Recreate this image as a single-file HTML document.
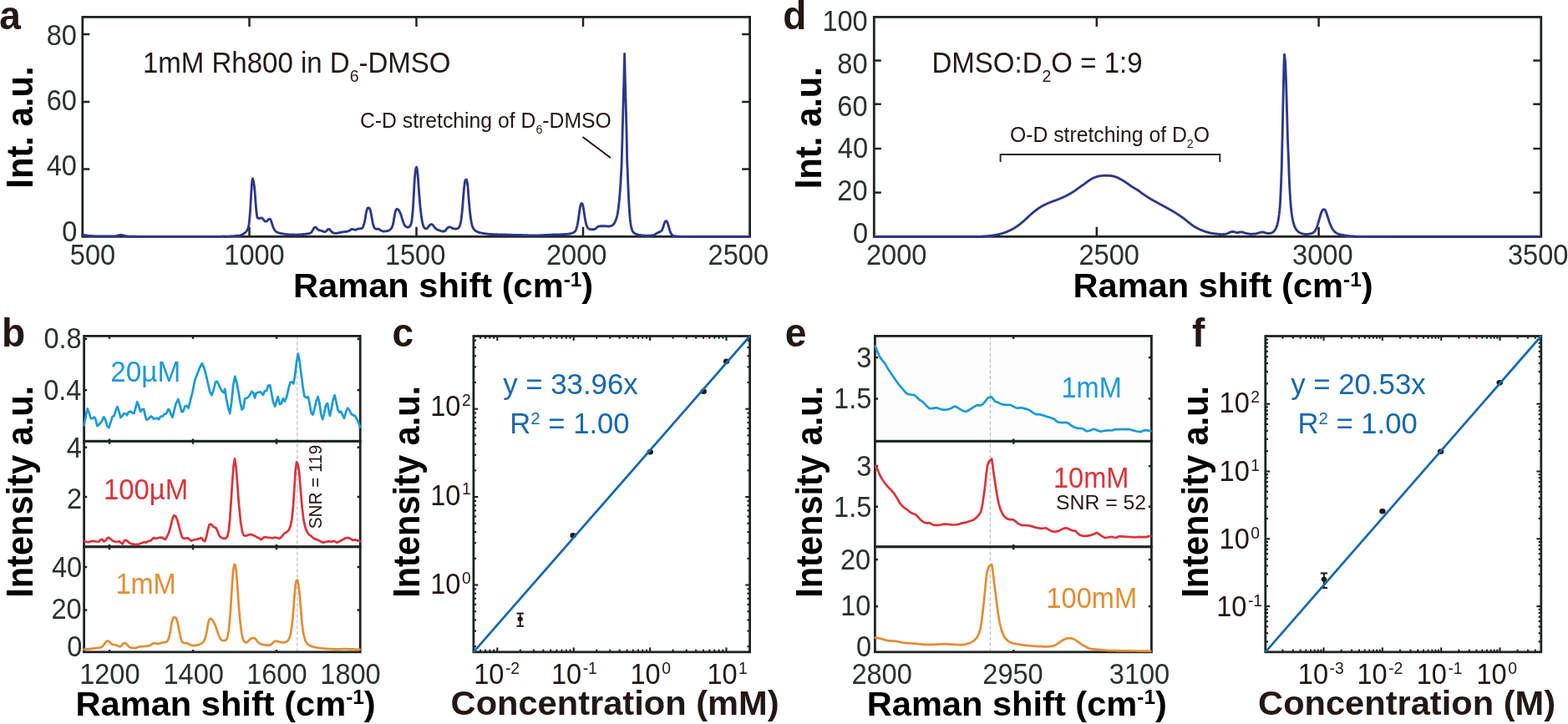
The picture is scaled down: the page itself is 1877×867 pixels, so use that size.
<!DOCTYPE html>
<html lang="en"><head><meta charset="utf-8"><title>Raman spectra figure</title>
<style>
html,body{margin:0;padding:0;background:#fff;}
body{width:1877px;height:867px;overflow:hidden;}
svg{display:block;font-family:"Liberation Sans",sans-serif;}
</style></head><body>
<svg width="1877" height="867" viewBox="0 0 1877 867">
<rect width="1877" height="867" fill="#ffffff"/>
<rect x="98.80" y="20.40" width="798.80" height="262.90" fill="none" stroke="#1e2423" stroke-width="2.8"/>
<line x1="298.50" y1="20.40" x2="298.50" y2="31.90" stroke="#1e2423" stroke-width="2.5"/>
<line x1="298.50" y1="283.30" x2="298.50" y2="271.80" stroke="#1e2423" stroke-width="2.5"/>
<line x1="498.50" y1="20.40" x2="498.50" y2="31.90" stroke="#1e2423" stroke-width="2.5"/>
<line x1="498.50" y1="283.30" x2="498.50" y2="271.80" stroke="#1e2423" stroke-width="2.5"/>
<line x1="698.00" y1="20.40" x2="698.00" y2="31.90" stroke="#1e2423" stroke-width="2.5"/>
<line x1="698.00" y1="283.30" x2="698.00" y2="271.80" stroke="#1e2423" stroke-width="2.5"/>
<line x1="98.80" y1="41.00" x2="107.30" y2="41.00" stroke="#1e2423" stroke-width="2.5"/>
<line x1="897.60" y1="41.00" x2="888.10" y2="41.00" stroke="#1e2423" stroke-width="2.5"/>
<line x1="98.80" y1="122.00" x2="107.30" y2="122.00" stroke="#1e2423" stroke-width="2.5"/>
<line x1="897.60" y1="122.00" x2="888.10" y2="122.00" stroke="#1e2423" stroke-width="2.5"/>
<line x1="98.80" y1="202.50" x2="107.30" y2="202.50" stroke="#1e2423" stroke-width="2.5"/>
<line x1="897.60" y1="202.50" x2="888.10" y2="202.50" stroke="#1e2423" stroke-width="2.5"/>
<polyline points="98.5,281.1 99.0,281.2 99.5,281.3 100.0,281.4 100.5,281.4 101.0,281.5 101.5,281.6 102.0,281.7 102.5,281.8 103.0,281.9 103.5,281.9 104.0,282.0 104.5,282.1 105.0,282.1 105.5,282.2 106.0,282.2 106.5,282.3 107.0,282.3 107.5,282.3 108.0,282.4 108.5,282.4 109.0,282.5 109.5,282.5 110.0,282.5 110.5,282.6 111.0,282.6 111.5,282.6 112.0,282.7 112.5,282.7 113.0,282.7 113.5,282.8 114.0,282.8 114.5,282.8 115.0,282.8 115.5,282.9 116.0,282.9 116.5,282.9 117.0,282.9 117.5,282.9 118.0,283.0 118.5,283.0 119.0,283.0 119.5,283.0 120.0,283.0 120.5,283.0 121.0,283.0 121.5,283.0 122.0,283.0 122.5,283.0 123.0,283.0 123.5,283.0 124.0,283.0 124.5,283.0 125.0,283.0 125.5,283.0 126.0,283.0 126.5,283.0 127.0,283.0 127.5,283.0 128.0,283.0 128.5,283.0 129.0,283.0 129.5,283.0 130.0,283.0 130.5,283.0 131.0,283.0 131.5,283.0 132.0,283.0 132.5,283.0 133.0,283.0 133.5,283.0 134.0,283.0 134.5,283.0 135.0,283.0 135.5,283.0 136.0,283.0 136.5,283.0 137.0,283.0 137.5,283.0 138.0,282.9 138.5,282.8 139.0,282.6 139.5,282.5 140.0,282.3 140.5,282.1 141.0,282.0 141.5,281.9 142.0,281.8 142.5,281.7 143.0,281.5 143.5,281.4 144.0,281.4 144.5,281.3 145.0,281.3 145.5,281.4 146.0,281.5 146.5,281.6 147.0,281.8 147.5,281.9 148.0,282.1 148.5,282.2 149.0,282.3 149.5,282.4 150.0,282.5 150.5,282.7 151.0,282.8 151.5,282.9 152.0,283.0 152.5,283.0 153.0,283.1 153.5,283.1 154.0,283.1 154.5,283.2 155.0,283.2 155.5,283.2 156.0,283.2 156.5,283.2 157.0,283.2 157.5,283.2 158.0,283.2 158.5,283.2 159.0,283.2 159.5,283.2 160.0,283.2 160.5,283.2 161.0,283.2 161.5,283.2 162.0,283.2 162.5,283.2 163.0,283.2 163.5,283.3 164.0,283.3 164.5,283.3 165.0,283.3 165.5,283.3 166.0,283.3 166.5,283.3 167.0,283.3 167.5,283.3 168.0,283.3 168.5,283.3 169.0,283.3 169.5,283.3 170.0,283.3 170.5,283.3 171.0,283.3 171.5,283.3 172.0,283.3 172.5,283.3 173.0,283.3 173.5,283.3 174.0,283.3 174.5,283.3 175.0,283.3 175.5,283.3 176.0,283.3 176.5,283.3 177.0,283.3 177.5,283.3 178.0,283.3 178.5,283.3 179.0,283.3 179.5,283.4 180.0,283.4 180.5,283.4 181.0,283.4 181.5,283.4 182.0,283.4 182.5,283.4 183.0,283.4 183.5,283.4 184.0,283.4 184.5,283.4 185.0,283.4 185.5,283.4 186.0,283.4 186.5,283.4 187.0,283.4 187.5,283.4 188.0,283.4 188.5,283.4 189.0,283.4 189.5,283.4 190.0,283.4 190.5,283.4 191.0,283.4 191.5,283.4 192.0,283.4 192.5,283.4 193.0,283.4 193.5,283.4 194.0,283.4 194.5,283.4 195.0,283.4 195.5,283.4 196.0,283.4 196.5,283.4 197.0,283.4 197.5,283.4 198.0,283.4 198.5,283.4 199.0,283.4 199.5,283.4 200.0,283.4 200.5,283.4 201.0,283.4 201.5,283.4 202.0,283.4 202.5,283.4 203.0,283.4 203.5,283.4 204.0,283.4 204.5,283.4 205.0,283.4 205.5,283.4 206.0,283.4 206.5,283.4 207.0,283.4 207.5,283.4 208.0,283.4 208.5,283.4 209.0,283.4 209.5,283.4 210.0,283.4 210.5,283.4 211.0,283.4 211.5,283.4 212.0,283.4 212.5,283.4 213.0,283.4 213.5,283.4 214.0,283.4 214.5,283.4 215.0,283.4 215.5,283.4 216.0,283.4 216.5,283.4 217.0,283.4 217.5,283.4 218.0,283.4 218.5,283.4 219.0,283.4 219.5,283.4 220.0,283.4 220.5,283.4 221.0,283.4 221.5,283.4 222.0,283.4 222.5,283.4 223.0,283.4 223.5,283.4 224.0,283.4 224.5,283.4 225.0,283.4 225.5,283.4 226.0,283.4 226.5,283.4 227.0,283.4 227.5,283.4 228.0,283.4 228.5,283.4 229.0,283.4 229.5,283.4 230.0,283.4 230.5,283.4 231.0,283.4 231.5,283.4 232.0,283.4 232.5,283.4 233.0,283.4 233.5,283.4 234.0,283.4 234.5,283.4 235.0,283.4 235.5,283.4 236.0,283.4 236.5,283.4 237.0,283.4 237.5,283.4 238.0,283.4 238.5,283.4 239.0,283.4 239.5,283.4 240.0,283.4 240.5,283.4 241.0,283.4 241.5,283.4 242.0,283.4 242.5,283.4 243.0,283.4 243.5,283.4 244.0,283.4 244.5,283.4 245.0,283.4 245.5,283.4 246.0,283.4 246.5,283.4 247.0,283.4 247.5,283.4 248.0,283.4 248.5,283.4 249.0,283.4 249.5,283.4 250.0,283.4 250.5,283.4 251.0,283.4 251.5,283.4 252.0,283.4 252.5,283.4 253.0,283.4 253.5,283.4 254.0,283.4 254.5,283.4 255.0,283.4 255.5,283.4 256.0,283.4 256.5,283.4 257.0,283.3 257.5,283.3 258.0,283.3 258.5,283.3 259.0,283.3 259.5,283.3 260.0,283.3 260.5,283.3 261.0,283.3 261.5,283.3 262.0,283.3 262.5,283.3 263.0,283.3 263.5,283.3 264.0,283.3 264.5,283.3 265.0,283.3 265.5,283.3 266.0,283.2 266.5,283.2 267.0,283.2 267.5,283.2 268.0,283.2 268.5,283.2 269.0,283.2 269.5,283.2 270.0,283.2 270.5,283.2 271.0,283.2 271.5,283.1 272.0,283.1 272.5,283.1 273.0,283.1 273.5,283.1 274.0,283.1 274.5,283.1 275.0,283.1 275.5,283.1 276.0,283.0 276.5,283.0 277.0,283.0 277.5,283.0 278.0,282.9 278.5,282.9 279.0,282.8 279.5,282.8 280.0,282.7 280.5,282.6 281.0,282.6 281.5,282.5 282.0,282.4 282.5,282.4 283.0,282.3 283.5,282.3 284.0,282.3 284.5,282.2 285.0,282.2 285.5,282.2 286.0,282.2 286.5,282.2 287.0,282.2 287.5,282.0 288.0,281.9 288.5,281.6 289.0,281.4 289.5,281.1 290.0,280.8 290.5,280.6 291.0,280.3 291.5,280.0 292.0,279.7 292.5,279.3 293.0,278.9 293.5,278.5 294.0,278.0 294.5,277.5 295.0,276.9 295.5,276.2 296.0,275.4 296.5,274.4 297.0,273.1 297.5,271.5 298.0,268.9 298.5,264.6 299.0,259.3 299.5,252.9 300.0,244.2 300.5,235.0 301.0,227.1 301.5,219.6 302.0,215.4 302.5,213.9 303.0,215.2 303.5,217.4 304.0,220.2 304.5,223.9 305.0,228.8 305.5,235.7 306.0,242.7 306.5,248.8 307.0,254.3 307.5,257.8 308.0,260.5 308.5,261.1 309.0,261.3 309.5,261.4 310.0,261.5 310.5,261.5 311.0,261.4 311.5,261.3 312.0,261.1 312.5,261.0 313.0,260.9 313.5,261.1 314.0,261.5 314.5,262.0 315.0,262.5 315.5,263.0 316.0,263.7 316.5,264.3 317.0,264.9 317.5,265.2 318.0,265.3 318.5,265.2 319.0,264.9 319.5,264.7 320.0,264.3 320.5,263.8 321.0,263.1 321.5,262.4 322.0,262.1 322.5,262.1 323.0,262.3 323.5,262.6 324.0,263.1 324.5,264.4 325.0,265.9 325.5,267.4 326.0,269.0 326.5,270.6 327.0,272.1 327.5,273.2 328.0,274.2 328.5,275.1 329.0,275.9 329.5,276.5 330.0,277.0 330.5,277.4 331.0,277.7 331.5,278.0 332.0,278.3 332.5,278.5 333.0,278.7 333.5,278.8 334.0,279.0 334.5,279.1 335.0,279.3 335.5,279.4 336.0,279.5 336.5,279.6 337.0,279.7 337.5,279.7 338.0,279.8 338.5,279.9 339.0,280.0 339.5,280.1 340.0,280.1 340.5,280.2 341.0,280.3 341.5,280.4 342.0,280.4 342.5,280.5 343.0,280.6 343.5,280.6 344.0,280.7 344.5,280.7 345.0,280.8 345.5,280.8 346.0,280.8 346.5,280.9 347.0,280.9 347.5,280.9 348.0,280.9 348.5,280.9 349.0,281.0 349.5,281.0 350.0,281.0 350.5,281.0 351.0,281.0 351.5,281.0 352.0,281.0 352.5,281.1 353.0,281.1 353.5,281.1 354.0,281.1 354.5,281.1 355.0,281.1 355.5,281.1 356.0,281.0 356.5,281.0 357.0,281.0 357.5,281.0 358.0,280.9 358.5,280.9 359.0,280.9 359.5,280.8 360.0,280.8 360.5,280.7 361.0,280.7 361.5,280.6 362.0,280.6 362.5,280.5 363.0,280.5 363.5,280.5 364.0,280.4 364.5,280.4 365.0,280.3 365.5,280.3 366.0,280.2 366.5,280.2 367.0,280.1 367.5,280.1 368.0,280.0 368.5,279.9 369.0,279.8 369.5,279.7 370.0,279.6 370.5,279.5 371.0,279.3 371.5,279.1 372.0,278.8 372.5,278.5 373.0,277.9 373.5,277.1 374.0,276.3 374.5,275.5 375.0,274.5 375.5,273.5 376.0,272.7 376.5,272.4 377.0,272.3 377.5,272.2 378.0,272.2 378.5,272.5 379.0,273.1 379.5,273.8 380.0,274.4 380.5,274.8 381.0,275.1 381.5,275.4 382.0,275.6 382.5,275.8 383.0,276.0 383.5,276.1 384.0,276.2 384.5,276.3 385.0,276.4 385.5,276.5 386.0,276.7 386.5,277.0 387.0,277.3 387.5,277.5 388.0,277.6 388.5,277.6 389.0,277.5 389.5,277.3 390.0,277.2 390.5,276.9 391.0,276.3 391.5,275.6 392.0,275.0 392.5,274.7 393.0,274.5 393.5,274.4 394.0,274.4 394.5,274.6 395.0,275.2 395.5,275.8 396.0,276.4 396.5,277.0 397.0,277.6 397.5,278.1 398.0,278.3 398.5,278.6 399.0,278.8 399.5,279.0 400.0,279.1 400.5,279.3 401.0,279.3 401.5,279.3 402.0,279.3 402.5,279.3 403.0,279.2 403.5,279.2 404.0,279.1 404.5,279.0 405.0,278.9 405.5,278.8 406.0,278.7 406.5,278.6 407.0,278.5 407.5,278.4 408.0,278.3 408.5,278.1 409.0,278.0 409.5,277.9 410.0,277.8 410.5,277.8 411.0,277.7 411.5,277.7 412.0,277.6 412.5,277.6 413.0,277.6 413.5,277.5 414.0,277.5 414.5,277.4 415.0,277.3 415.5,277.2 416.0,277.1 416.5,277.0 417.0,276.8 417.5,276.6 418.0,276.4 418.5,276.1 419.0,275.8 419.5,275.4 420.0,275.0 420.5,274.6 421.0,274.4 421.5,274.4 422.0,274.5 422.5,274.6 423.0,274.7 423.5,274.8 424.0,275.0 424.5,275.1 425.0,275.3 425.5,275.3 426.0,275.2 426.5,275.0 427.0,274.7 427.5,274.4 428.0,274.2 428.5,274.1 429.0,274.0 429.5,274.0 430.0,273.9 430.5,273.9 431.0,273.8 431.5,273.7 432.0,273.7 432.5,273.6 433.0,273.5 433.5,273.3 434.0,272.8 434.5,271.8 435.0,270.5 435.5,269.1 436.0,267.4 436.5,265.3 437.0,262.8 437.5,260.0 438.0,256.6 438.5,253.7 439.0,251.9 439.5,250.3 440.0,249.3 440.5,249.0 441.0,249.0 441.5,249.0 442.0,249.0 442.5,249.7 443.0,251.0 443.5,252.6 444.0,254.7 444.5,257.3 445.0,260.2 445.5,262.9 446.0,265.7 446.5,268.1 447.0,269.9 447.5,271.4 448.0,272.6 448.5,273.2 449.0,273.6 449.5,273.9 450.0,274.1 450.5,274.2 451.0,274.2 451.5,274.2 452.0,274.2 452.5,274.2 453.0,274.2 453.5,274.2 454.0,274.5 454.5,274.9 455.0,275.3 455.5,275.7 456.0,276.0 456.5,276.2 457.0,276.5 457.5,276.7 458.0,276.9 458.5,277.0 459.0,277.0 459.5,277.0 460.0,277.0 460.5,277.0 461.0,276.9 461.5,276.9 462.0,276.8 462.5,276.8 463.0,276.7 463.5,276.6 464.0,276.5 464.5,276.4 465.0,276.2 465.5,276.0 466.0,275.7 466.5,275.4 467.0,275.0 467.5,274.6 468.0,274.1 468.5,273.5 469.0,272.5 469.5,271.3 470.0,269.9 470.5,268.3 471.0,266.2 471.5,263.1 472.0,259.9 472.5,257.2 473.0,254.6 473.5,252.5 474.0,251.4 474.5,250.8 475.0,250.4 475.5,250.3 476.0,250.5 476.5,250.8 477.0,251.4 477.5,251.9 478.0,252.6 478.5,253.6 479.0,254.8 479.5,256.0 480.0,257.3 480.5,258.8 481.0,260.6 481.5,262.2 482.0,263.8 482.5,265.3 483.0,266.8 483.5,268.1 484.0,269.1 484.5,269.9 485.0,270.5 485.5,271.1 486.0,271.5 486.5,271.7 487.0,271.9 487.5,272.1 488.0,272.2 488.5,272.2 489.0,272.1 489.5,271.8 490.0,271.5 490.5,271.2 491.0,270.5 491.5,269.5 492.0,268.2 492.5,266.6 493.0,263.7 493.5,259.2 494.0,254.1 494.5,247.3 495.0,238.6 495.5,229.6 496.0,220.2 496.5,212.9 497.0,206.9 497.5,203.5 498.0,201.1 498.5,200.0 499.0,201.1 499.5,204.1 500.0,208.4 500.5,214.7 501.0,221.3 501.5,228.6 502.0,235.4 502.5,241.4 503.0,247.0 503.5,251.9 504.0,256.0 504.5,259.7 505.0,263.0 505.5,265.6 506.0,267.9 506.5,269.8 507.0,271.0 507.5,272.0 508.0,272.7 508.5,273.3 509.0,273.6 509.5,273.7 510.0,273.8 510.5,273.8 511.0,273.7 511.5,273.3 512.0,272.7 512.5,272.1 513.0,271.5 513.5,270.8 514.0,270.1 514.5,269.5 515.0,269.1 515.5,268.9 516.0,268.7 516.5,268.6 517.0,268.8 517.5,269.0 518.0,269.3 518.5,269.8 519.0,270.5 519.5,271.3 520.0,272.0 520.5,272.6 521.0,273.1 521.5,273.7 522.0,274.1 522.5,274.5 523.0,274.8 523.5,275.1 524.0,275.2 524.5,275.4 525.0,275.6 525.5,275.7 526.0,275.9 526.5,276.1 527.0,276.3 527.5,276.5 528.0,276.7 528.5,276.8 529.0,277.0 529.5,277.0 530.0,277.0 530.5,277.0 531.0,277.0 531.5,276.9 532.0,276.9 532.5,276.8 533.0,276.4 533.5,275.7 534.0,274.9 534.5,274.2 535.0,273.7 535.5,273.2 536.0,272.7 536.5,272.3 537.0,272.1 537.5,271.9 538.0,271.8 538.5,271.8 539.0,271.9 539.5,272.2 540.0,272.5 540.5,272.7 541.0,272.9 541.5,273.2 542.0,273.4 542.5,273.6 543.0,273.8 543.5,273.9 544.0,274.0 544.5,274.1 545.0,274.2 545.5,274.2 546.0,274.1 546.5,274.0 547.0,273.9 547.5,273.7 548.0,273.5 548.5,273.2 549.0,272.7 549.5,272.1 550.0,271.3 550.5,270.1 551.0,268.3 551.5,266.1 552.0,263.3 552.5,259.5 553.0,255.2 553.5,250.2 554.0,243.8 554.5,237.3 555.0,231.4 555.5,225.7 556.0,221.4 556.5,218.0 557.0,215.7 557.5,215.2 558.0,214.9 558.5,215.2 559.0,217.0 559.5,219.6 560.0,223.7 560.5,230.0 561.0,236.4 561.5,242.4 562.0,248.4 562.5,253.4 563.0,257.5 563.5,261.3 564.0,264.5 564.5,267.1 565.0,269.3 565.5,271.1 566.0,272.5 566.5,273.4 567.0,274.1 567.5,274.8 568.0,275.3 568.5,275.8 569.0,276.2 569.5,276.5 570.0,276.8 570.5,277.1 571.0,277.4 571.5,277.6 572.0,277.9 572.5,278.1 573.0,278.2 573.5,278.4 574.0,278.5 574.5,278.6 575.0,278.8 575.5,278.9 576.0,279.0 576.5,279.1 577.0,279.2 577.5,279.3 578.0,279.4 578.5,279.5 579.0,279.5 579.5,279.6 580.0,279.7 580.5,279.7 581.0,279.8 581.5,279.9 582.0,279.9 582.5,280.0 583.0,280.1 583.5,280.1 584.0,280.2 584.5,280.2 585.0,280.3 585.5,280.3 586.0,280.4 586.5,280.4 587.0,280.4 587.5,280.5 588.0,280.5 588.5,280.5 589.0,280.6 589.5,280.6 590.0,280.6 590.5,280.6 591.0,280.6 591.5,280.6 592.0,280.7 592.5,280.7 593.0,280.7 593.5,280.7 594.0,280.7 594.5,280.7 595.0,280.7 595.5,280.8 596.0,280.8 596.5,280.8 597.0,280.8 597.5,280.8 598.0,280.8 598.5,280.8 599.0,280.9 599.5,280.9 600.0,280.9 600.5,280.9 601.0,280.9 601.5,280.9 602.0,280.9 602.5,281.0 603.0,281.0 603.5,281.0 604.0,281.0 604.5,281.0 605.0,281.0 605.5,281.0 606.0,281.1 606.5,281.1 607.0,281.1 607.5,281.1 608.0,281.1 608.5,281.1 609.0,281.1 609.5,281.2 610.0,281.2 610.5,281.2 611.0,281.2 611.5,281.2 612.0,281.2 612.5,281.2 613.0,281.2 613.5,281.3 614.0,281.3 614.5,281.3 615.0,281.3 615.5,281.3 616.0,281.3 616.5,281.3 617.0,281.3 617.5,281.4 618.0,281.4 618.5,281.4 619.0,281.4 619.5,281.4 620.0,281.4 620.5,281.4 621.0,281.4 621.5,281.5 622.0,281.5 622.5,281.5 623.0,281.5 623.5,281.5 624.0,281.5 624.5,281.5 625.0,281.6 625.5,281.6 626.0,281.6 626.5,281.6 627.0,281.6 627.5,281.6 628.0,281.6 628.5,281.7 629.0,281.7 629.5,281.7 630.0,281.7 630.5,281.7 631.0,281.7 631.5,281.7 632.0,281.8 632.5,281.8 633.0,281.8 633.5,281.8 634.0,281.8 634.5,281.8 635.0,281.8 635.5,281.8 636.0,281.8 636.5,281.8 637.0,281.8 637.5,281.9 638.0,281.9 638.5,281.9 639.0,281.9 639.5,281.9 640.0,281.9 640.5,281.9 641.0,281.9 641.5,281.9 642.0,281.9 642.5,281.9 643.0,281.9 643.5,281.9 644.0,281.8 644.5,281.8 645.0,281.8 645.5,281.8 646.0,281.8 646.5,281.8 647.0,281.7 647.5,281.7 648.0,281.7 648.5,281.7 649.0,281.7 649.5,281.6 650.0,281.6 650.5,281.6 651.0,281.6 651.5,281.5 652.0,281.5 652.5,281.5 653.0,281.4 653.5,281.4 654.0,281.4 654.5,281.4 655.0,281.3 655.5,281.3 656.0,281.3 656.5,281.3 657.0,281.2 657.5,281.2 658.0,281.2 658.5,281.2 659.0,281.1 659.5,281.1 660.0,281.1 660.5,281.1 661.0,281.1 661.5,281.0 662.0,281.0 662.5,281.0 663.0,281.0 663.5,281.0 664.0,281.0 664.5,280.9 665.0,280.9 665.5,280.9 666.0,280.9 666.5,280.9 667.0,280.9 667.5,280.9 668.0,280.8 668.5,280.8 669.0,280.8 669.5,280.8 670.0,280.8 670.5,280.8 671.0,280.7 671.5,280.7 672.0,280.7 672.5,280.7 673.0,280.7 673.5,280.6 674.0,280.6 674.5,280.6 675.0,280.6 675.5,280.6 676.0,280.5 676.5,280.5 677.0,280.5 677.5,280.4 678.0,280.4 678.5,280.4 679.0,280.3 679.5,280.3 680.0,280.2 680.5,280.2 681.0,280.1 681.5,280.0 682.0,280.0 682.5,279.9 683.0,279.7 683.5,279.6 684.0,279.5 684.5,279.3 685.0,279.2 685.5,279.0 686.0,278.8 686.5,278.5 687.0,278.2 687.5,277.8 688.0,277.4 688.5,276.9 689.0,276.1 689.5,275.1 690.0,273.8 690.5,272.3 691.0,270.3 691.5,267.7 692.0,264.8 692.5,261.5 693.0,257.8 693.5,254.3 694.0,251.0 694.5,247.7 695.0,245.7 695.5,244.4 696.0,243.6 696.5,243.5 697.0,244.1 697.5,245.3 698.0,246.9 698.5,250.0 699.0,253.3 699.5,256.4 700.0,259.7 700.5,262.8 701.0,265.4 701.5,267.7 702.0,269.6 702.5,270.9 703.0,271.9 703.5,272.7 704.0,273.3 704.5,273.7 705.0,274.0 705.5,274.2 706.0,274.4 706.5,274.6 707.0,274.7 707.5,274.7 708.0,274.7 708.5,274.7 709.0,274.7 709.5,274.7 710.0,274.7 710.5,274.7 711.0,274.7 711.5,274.6 712.0,274.4 712.5,274.1 713.0,273.8 713.5,273.5 714.0,273.1 714.5,272.6 715.0,272.0 715.5,271.6 716.0,271.3 716.5,271.2 717.0,271.0 717.5,270.9 718.0,270.8 718.5,270.8 719.0,270.7 719.5,270.7 720.0,270.7 720.5,270.7 721.0,270.7 721.5,270.7 722.0,270.7 722.5,270.7 723.0,270.7 723.5,270.7 724.0,270.7 724.5,270.7 725.0,270.7 725.5,270.8 726.0,270.8 726.5,270.9 727.0,270.9 727.5,271.0 728.0,271.0 728.5,271.1 729.0,271.1 729.5,271.0 730.0,270.9 730.5,270.8 731.0,270.7 731.5,270.5 732.0,270.4 732.5,270.2 733.0,269.9 733.5,269.5 734.0,269.1 734.5,268.6 735.0,268.0 735.5,267.2 736.0,266.2 736.5,265.1 737.0,263.9 737.5,262.6 738.0,261.1 738.5,259.4 739.0,257.3 739.5,254.6 740.0,251.1 740.5,247.2 741.0,242.9 741.5,237.8 742.0,232.0 742.5,225.1 743.0,217.4 743.5,208.4 744.0,200.3 745.0,165.0 745.9,130.0 746.8,98.0 747.6,64.4 748.4,98.0 749.3,130.0 750.2,165.0 750.7,193.6 751.2,203.5 751.7,217.4 752.2,229.6 752.7,239.9 753.2,248.7 753.7,255.9 754.2,262.2 754.7,266.5 755.2,269.8 755.7,272.4 756.2,274.1 756.7,275.5 757.2,276.7 757.7,277.6 758.2,278.2 758.7,278.7 759.2,279.1 759.7,279.5 760.2,279.8 760.7,280.0 761.2,280.2 761.7,280.4 762.2,280.6 762.7,280.8 763.2,280.9 763.7,281.0 764.2,281.1 764.7,281.3 765.2,281.4 765.7,281.4 766.2,281.5 766.7,281.6 767.2,281.6 767.7,281.7 768.2,281.8 768.7,281.8 769.2,281.9 769.7,281.9 770.2,281.9 770.7,282.0 771.2,282.0 771.7,282.1 772.2,282.1 772.7,282.1 773.2,282.2 773.7,282.2 774.2,282.2 774.7,282.2 775.2,282.2 775.7,282.2 776.2,282.2 776.7,282.2 777.2,282.2 777.7,282.2 778.2,282.1 778.7,282.1 779.2,282.0 779.7,282.0 780.2,281.9 780.7,281.9 781.2,281.8 781.7,281.7 782.2,281.6 782.7,281.5 783.2,281.2 783.7,281.0 784.2,280.6 784.7,280.3 785.2,280.0 785.7,279.7 786.2,279.4 786.7,279.2 787.2,278.9 787.7,278.6 788.2,278.4 788.7,278.1 789.2,277.9 789.7,277.7 790.2,277.6 790.7,277.3 791.2,277.0 791.7,276.5 792.2,275.8 792.7,274.9 793.2,273.9 793.7,272.6 794.2,270.8 794.7,269.0 795.2,267.7 795.7,266.3 796.2,265.3 796.7,264.9 797.2,264.7 797.7,264.6 798.2,265.2 798.7,266.1 799.2,267.2 799.7,268.7 800.2,270.4 800.7,272.1 801.2,273.9 801.7,275.6 802.2,277.2 802.7,278.4 803.2,279.5 803.7,280.4 804.2,281.1 804.7,281.6 805.2,281.9 805.7,282.2 806.2,282.4 806.7,282.6 807.2,282.7 807.7,282.8 808.2,282.9 808.7,282.9 809.2,283.0 809.7,283.1 810.2,283.1 810.7,283.2 811.2,283.2 811.7,283.2 812.2,283.3 812.7,283.3 813.2,283.3 813.7,283.3 814.2,283.4 814.7,283.4 815.2,283.4 815.7,283.4 816.2,283.4 816.7,283.4 817.2,283.4 817.7,283.4 818.2,283.4 818.7,283.4 819.2,283.4 819.7,283.4 820.2,283.4 820.7,283.4 821.2,283.4 821.7,283.4 822.2,283.4 822.7,283.4 823.2,283.4 823.7,283.4 824.2,283.4 824.7,283.4 825.2,283.4 825.7,283.4 826.2,283.4 826.7,283.4 827.2,283.4 827.7,283.4 828.2,283.5 828.7,283.5 829.2,283.5 829.7,283.5 830.2,283.5 830.7,283.5 831.2,283.5 831.7,283.5 832.2,283.5 832.7,283.5 833.2,283.5 833.7,283.5 834.2,283.5 834.7,283.5 835.2,283.5 835.7,283.5 836.2,283.5 836.7,283.5 837.2,283.5 837.7,283.5 838.2,283.5 838.7,283.5 839.2,283.5 839.7,283.5 840.2,283.5 840.7,283.5 841.2,283.5 841.7,283.5 842.2,283.5 842.7,283.5 843.2,283.5 843.7,283.5 844.2,283.5 844.7,283.5 845.2,283.5 845.7,283.5 846.2,283.5 846.7,283.5 847.2,283.5 847.7,283.5 848.2,283.5 848.7,283.5 849.2,283.5 849.7,283.5 850.2,283.5 850.7,283.5 851.2,283.5 851.7,283.5 852.2,283.5 852.7,283.5 853.2,283.5 853.7,283.5 854.2,283.5 854.7,283.5 855.2,283.5 855.7,283.5 856.2,283.5 856.7,283.5 857.2,283.5 857.7,283.5 858.2,283.5 858.7,283.5 859.2,283.5 859.7,283.5 860.2,283.5 860.7,283.5 861.2,283.5 861.7,283.5 862.2,283.5 862.7,283.5 863.2,283.5 863.7,283.5 864.2,283.5 864.7,283.5 865.2,283.5 865.7,283.5 866.2,283.5 866.7,283.5 867.2,283.5 867.7,283.5 868.2,283.5 868.7,283.5 869.2,283.5 869.7,283.5 870.2,283.5 870.7,283.5 871.2,283.5 871.7,283.5 872.2,283.5 872.7,283.5 873.2,283.5 873.7,283.5 874.2,283.5 874.7,283.5 875.2,283.5 875.7,283.5 876.2,283.5 876.7,283.5 877.2,283.5 877.7,283.5 878.2,283.5 878.7,283.5 879.2,283.5 879.7,283.5 880.2,283.5 880.7,283.5 881.2,283.5 881.7,283.5 882.2,283.5 882.7,283.5 883.2,283.5 883.7,283.5 884.2,283.5 884.7,283.5 885.2,283.5 885.7,283.5 886.2,283.5 886.7,283.5 887.2,283.5 887.7,283.5 888.2,283.5 888.7,283.5 889.2,283.5 889.7,283.5 890.2,283.5 890.7,283.5 891.2,283.5 891.7,283.5 892.2,283.5 892.7,283.5 893.2,283.5 893.7,283.5 894.2,283.5 894.7,283.5 895.2,283.5 895.7,283.5 896.2,283.5 896.7,283.5 897.2,283.5" fill="none" stroke="#2d3889" stroke-width="2.85" stroke-linejoin="round" stroke-linecap="round"/>
<text transform="translate(55.65 53.95) scale(0.9200 1)" font-size="35.4" fill="#2b3030">80</text>
<text transform="translate(55.65 131.75) scale(0.9200 1)" font-size="35.4" fill="#2b3030">60</text>
<text transform="translate(55.75 210.05) scale(0.9200 1)" font-size="35.4" fill="#2b3030">40</text>
<text transform="translate(74.20 288.75) scale(0.9200 1)" font-size="35.4" fill="#2b3030">0</text>
<text transform="translate(83.85 316.70) scale(0.9200 1)" font-size="35.4" fill="#2b3030">500</text>
<text transform="translate(268.30 316.70) scale(0.9200 1)" font-size="35.4" fill="#2b3030">1000</text>
<text transform="translate(460.90 316.70) scale(0.9200 1)" font-size="35.4" fill="#2b3030">1500</text>
<text transform="translate(654.00 316.70) scale(0.9200 1)" font-size="35.4" fill="#2b3030">2000</text>
<text transform="translate(847.60 316.70) scale(0.9200 1)" font-size="35.4" fill="#2b3030">2500</text>
<text transform="translate(-0.80 35.40) scale(0.9600 1)" font-size="48" fill="#231815" font-weight="bold">a</text>
<text transform="translate(39.10 225.70) rotate(-90) scale(0.9390 1)" font-size="44.5" fill="#000000" font-weight="bold">Int. a.u.</text>
<text transform="translate(351.00 356.15) scale(1.0150 1)" font-size="41" fill="#000000" font-weight="bold">Raman shift (cm<tspan font-size="24" dy="-13.6">-1</tspan><tspan dy="13.6">)</tspan></text>
<text transform="translate(171.00 86.80) scale(0.9490 1)" font-size="34.8" fill="#231815">1mM Rh800 in D<tspan font-size="20.5" dy="11.3">6</tspan><tspan dy="-11.3">-DMSO</tspan></text>
<text transform="translate(431.00 152.50) scale(0.9520 1)" font-size="26" fill="#231815">C-D stretching of D<tspan font-size="15" dy="7.5">6</tspan><tspan dy="-7.5">-DMSO</tspan></text>
<line x1="697.50" y1="164.00" x2="731.00" y2="189.00" stroke="#231815" stroke-width="2.0"/>
<rect x="1046.30" y="20.40" width="798.50" height="262.90" fill="none" stroke="#1e2423" stroke-width="2.8"/>
<line x1="1312.80" y1="20.40" x2="1312.80" y2="31.90" stroke="#1e2423" stroke-width="2.5"/>
<line x1="1312.80" y1="283.30" x2="1312.80" y2="271.80" stroke="#1e2423" stroke-width="2.5"/>
<line x1="1578.60" y1="20.40" x2="1578.60" y2="31.90" stroke="#1e2423" stroke-width="2.5"/>
<line x1="1578.60" y1="283.30" x2="1578.60" y2="271.80" stroke="#1e2423" stroke-width="2.5"/>
<line x1="1046.30" y1="72.50" x2="1054.80" y2="72.50" stroke="#1e2423" stroke-width="2.5"/>
<line x1="1844.80" y1="72.50" x2="1835.30" y2="72.50" stroke="#1e2423" stroke-width="2.5"/>
<line x1="1046.30" y1="124.70" x2="1054.80" y2="124.70" stroke="#1e2423" stroke-width="2.5"/>
<line x1="1844.80" y1="124.70" x2="1835.30" y2="124.70" stroke="#1e2423" stroke-width="2.5"/>
<line x1="1046.30" y1="178.00" x2="1054.80" y2="178.00" stroke="#1e2423" stroke-width="2.5"/>
<line x1="1844.80" y1="178.00" x2="1835.30" y2="178.00" stroke="#1e2423" stroke-width="2.5"/>
<line x1="1046.30" y1="230.60" x2="1054.80" y2="230.60" stroke="#1e2423" stroke-width="2.5"/>
<line x1="1844.80" y1="230.60" x2="1835.30" y2="230.60" stroke="#1e2423" stroke-width="2.5"/>
<polyline points="1046.2,283.5 1046.7,283.5 1047.2,283.5 1047.7,283.5 1048.2,283.5 1048.7,283.5 1049.2,283.5 1049.7,283.5 1050.2,283.5 1050.7,283.5 1051.2,283.5 1051.7,283.5 1052.2,283.5 1052.7,283.5 1053.2,283.5 1053.7,283.5 1054.2,283.5 1054.7,283.5 1055.2,283.5 1055.7,283.5 1056.2,283.5 1056.7,283.5 1057.2,283.5 1057.7,283.5 1058.2,283.5 1058.7,283.5 1059.2,283.5 1059.7,283.5 1060.2,283.5 1060.7,283.5 1061.2,283.5 1061.7,283.5 1062.2,283.5 1062.7,283.5 1063.2,283.5 1063.7,283.5 1064.2,283.5 1064.7,283.5 1065.2,283.5 1065.7,283.5 1066.2,283.5 1066.7,283.5 1067.2,283.5 1067.7,283.5 1068.2,283.5 1068.7,283.5 1069.2,283.5 1069.7,283.5 1070.2,283.5 1070.7,283.5 1071.2,283.5 1071.7,283.5 1072.2,283.5 1072.7,283.5 1073.2,283.5 1073.7,283.5 1074.2,283.5 1074.7,283.5 1075.2,283.5 1075.7,283.5 1076.2,283.5 1076.7,283.5 1077.2,283.5 1077.7,283.5 1078.2,283.5 1078.7,283.5 1079.2,283.5 1079.7,283.5 1080.2,283.5 1080.7,283.5 1081.2,283.5 1081.7,283.5 1082.2,283.5 1082.7,283.5 1083.2,283.5 1083.7,283.5 1084.2,283.5 1084.7,283.5 1085.2,283.5 1085.7,283.5 1086.2,283.5 1086.7,283.5 1087.2,283.5 1087.7,283.5 1088.2,283.5 1088.7,283.5 1089.2,283.5 1089.7,283.5 1090.2,283.5 1090.7,283.5 1091.2,283.5 1091.7,283.5 1092.2,283.5 1092.7,283.5 1093.2,283.5 1093.7,283.5 1094.2,283.5 1094.7,283.5 1095.2,283.5 1095.7,283.5 1096.2,283.5 1096.7,283.5 1097.2,283.5 1097.7,283.5 1098.2,283.5 1098.7,283.5 1099.2,283.5 1099.7,283.5 1100.2,283.5 1100.7,283.5 1101.2,283.5 1101.7,283.5 1102.2,283.5 1102.7,283.5 1103.2,283.5 1103.7,283.5 1104.2,283.5 1104.7,283.5 1105.2,283.5 1105.7,283.5 1106.2,283.5 1106.7,283.5 1107.2,283.5 1107.7,283.5 1108.2,283.5 1108.7,283.5 1109.2,283.5 1109.7,283.5 1110.2,283.5 1110.7,283.5 1111.2,283.5 1111.7,283.5 1112.2,283.5 1112.7,283.5 1113.2,283.5 1113.7,283.5 1114.2,283.5 1114.7,283.5 1115.2,283.5 1115.7,283.5 1116.2,283.5 1116.7,283.5 1117.2,283.5 1117.7,283.5 1118.2,283.5 1118.7,283.5 1119.2,283.5 1119.7,283.5 1120.2,283.5 1120.7,283.5 1121.2,283.5 1121.7,283.5 1122.2,283.5 1122.7,283.5 1123.2,283.5 1123.7,283.5 1124.2,283.5 1124.7,283.5 1125.2,283.5 1125.7,283.5 1126.2,283.5 1126.7,283.5 1127.2,283.5 1127.7,283.5 1128.2,283.5 1128.7,283.5 1129.2,283.5 1129.7,283.5 1130.2,283.5 1130.7,283.5 1131.2,283.5 1131.7,283.5 1132.2,283.5 1132.7,283.5 1133.2,283.5 1133.7,283.5 1134.2,283.5 1134.7,283.5 1135.2,283.5 1135.7,283.5 1136.2,283.5 1136.7,283.5 1137.2,283.5 1137.7,283.5 1138.2,283.5 1138.7,283.5 1139.2,283.5 1139.7,283.5 1140.2,283.5 1140.7,283.5 1141.2,283.5 1141.7,283.5 1142.2,283.5 1142.7,283.5 1143.2,283.5 1143.7,283.5 1144.2,283.5 1144.7,283.5 1145.2,283.5 1145.7,283.5 1146.2,283.5 1146.7,283.5 1147.2,283.5 1147.7,283.5 1148.2,283.5 1148.7,283.5 1149.2,283.5 1149.7,283.5 1150.2,283.5 1150.7,283.5 1151.2,283.5 1151.7,283.5 1152.2,283.5 1152.7,283.5 1153.2,283.5 1153.7,283.5 1154.2,283.5 1154.7,283.5 1155.2,283.5 1155.7,283.5 1156.2,283.5 1156.7,283.5 1157.2,283.5 1157.7,283.5 1158.2,283.5 1158.7,283.5 1159.2,283.5 1159.7,283.5 1160.2,283.5 1160.7,283.5 1161.2,283.5 1161.7,283.5 1162.2,283.5 1162.7,283.5 1163.2,283.5 1163.7,283.5 1164.2,283.5 1164.7,283.5 1165.2,283.5 1165.7,283.5 1166.2,283.5 1166.7,283.5 1167.2,283.5 1167.7,283.5 1168.2,283.5 1168.7,283.5 1169.2,283.5 1169.7,283.5 1170.2,283.5 1170.7,283.5 1171.2,283.5 1171.7,283.5 1172.2,283.5 1172.7,283.4 1173.2,283.4 1173.7,283.4 1174.2,283.4 1174.7,283.3 1175.2,283.3 1175.7,283.2 1176.2,283.2 1176.7,283.2 1177.2,283.1 1177.7,283.1 1178.2,283.0 1178.7,283.0 1179.2,283.0 1179.7,282.9 1180.2,282.9 1180.7,282.8 1181.2,282.8 1181.7,282.7 1182.2,282.7 1182.7,282.6 1183.2,282.6 1183.7,282.5 1184.2,282.5 1184.7,282.4 1185.2,282.4 1185.7,282.3 1186.2,282.2 1186.7,282.2 1187.2,282.1 1187.7,282.0 1188.2,282.0 1188.7,281.9 1189.2,281.8 1189.7,281.7 1190.2,281.7 1190.7,281.6 1191.2,281.5 1191.7,281.4 1192.2,281.3 1192.7,281.2 1193.2,281.1 1193.7,281.0 1194.2,280.9 1194.7,280.8 1195.2,280.7 1195.7,280.6 1196.2,280.5 1196.7,280.3 1197.2,280.2 1197.7,280.1 1198.2,279.9 1198.7,279.8 1199.2,279.7 1199.7,279.5 1200.2,279.4 1200.7,279.2 1201.2,279.0 1201.7,278.9 1202.2,278.7 1202.7,278.5 1203.2,278.3 1203.7,278.2 1204.2,278.0 1204.7,277.8 1205.2,277.6 1205.7,277.4 1206.2,277.1 1206.7,276.9 1207.2,276.7 1207.7,276.5 1208.2,276.3 1208.7,276.0 1209.2,275.8 1209.7,275.5 1210.2,275.3 1210.7,275.0 1211.2,274.8 1211.7,274.5 1212.2,274.2 1212.7,274.0 1213.2,273.7 1213.7,273.4 1214.2,273.1 1214.7,272.8 1215.2,272.5 1215.7,272.2 1216.2,271.8 1216.7,271.5 1217.2,271.2 1217.7,270.8 1218.2,270.5 1218.7,270.1 1219.2,269.8 1219.7,269.4 1220.2,269.0 1220.7,268.6 1221.2,268.2 1221.7,267.8 1222.2,267.4 1222.7,267.0 1223.2,266.6 1223.7,266.2 1224.2,265.7 1224.7,265.3 1225.2,264.8 1225.7,264.4 1226.2,263.9 1226.7,263.5 1227.2,263.0 1227.7,262.6 1228.2,262.1 1228.7,261.7 1229.2,261.2 1229.7,260.7 1230.2,260.3 1230.7,259.8 1231.2,259.3 1231.7,258.9 1232.2,258.4 1232.7,257.9 1233.2,257.5 1233.7,257.0 1234.2,256.6 1234.7,256.2 1235.2,255.7 1235.7,255.3 1236.2,254.9 1236.7,254.4 1237.2,254.0 1237.7,253.6 1238.2,253.2 1238.7,252.8 1239.2,252.4 1239.7,252.0 1240.2,251.6 1240.7,251.2 1241.2,250.9 1241.7,250.5 1242.2,250.1 1242.7,249.8 1243.2,249.5 1243.7,249.1 1244.2,248.8 1244.7,248.5 1245.2,248.2 1245.7,247.8 1246.2,247.5 1246.7,247.3 1247.2,247.0 1247.7,246.7 1248.2,246.4 1248.7,246.2 1249.2,245.9 1249.7,245.7 1250.2,245.4 1250.7,245.2 1251.2,244.9 1251.7,244.7 1252.2,244.5 1252.7,244.2 1253.2,244.0 1253.7,243.8 1254.2,243.6 1254.7,243.3 1255.2,243.1 1255.7,242.9 1256.2,242.7 1256.7,242.5 1257.2,242.3 1257.7,242.1 1258.2,241.9 1258.7,241.7 1259.2,241.5 1259.7,241.3 1260.2,241.1 1260.7,240.9 1261.2,240.7 1261.7,240.6 1262.2,240.4 1262.7,240.2 1263.2,240.0 1263.7,239.9 1264.2,239.7 1264.7,239.5 1265.2,239.3 1265.7,239.1 1266.2,238.9 1266.7,238.7 1267.2,238.5 1267.7,238.3 1268.2,238.1 1268.7,237.9 1269.2,237.7 1269.7,237.5 1270.2,237.3 1270.7,237.1 1271.2,236.9 1271.7,236.6 1272.2,236.4 1272.7,236.2 1273.2,236.0 1273.7,235.7 1274.2,235.5 1274.7,235.2 1275.2,235.0 1275.7,234.7 1276.2,234.5 1276.7,234.2 1277.2,234.0 1277.7,233.7 1278.2,233.4 1278.7,233.2 1279.2,232.9 1279.7,232.6 1280.2,232.4 1280.7,232.1 1281.2,231.8 1281.7,231.5 1282.2,231.2 1282.7,230.9 1283.2,230.6 1283.7,230.3 1284.2,230.0 1284.7,229.7 1285.2,229.4 1285.7,229.0 1286.2,228.7 1286.7,228.4 1287.2,228.0 1287.7,227.6 1288.2,227.3 1288.7,226.9 1289.2,226.5 1289.7,226.2 1290.2,225.8 1290.7,225.4 1291.2,225.1 1291.7,224.7 1292.2,224.4 1292.7,224.0 1293.2,223.7 1293.7,223.3 1294.2,223.0 1294.7,222.6 1295.2,222.3 1295.7,221.9 1296.2,221.6 1296.7,221.2 1297.2,220.9 1297.7,220.5 1298.2,220.2 1298.7,219.8 1299.2,219.4 1299.7,219.0 1300.2,218.7 1300.7,218.3 1301.2,217.9 1301.7,217.6 1302.2,217.2 1302.7,216.8 1303.2,216.5 1303.7,216.2 1304.2,215.8 1304.7,215.5 1305.2,215.2 1305.7,214.9 1306.2,214.6 1306.7,214.3 1307.2,214.0 1307.7,213.8 1308.2,213.5 1308.7,213.2 1309.2,213.0 1309.7,212.8 1310.2,212.6 1310.7,212.4 1311.2,212.2 1311.7,212.0 1312.2,211.9 1312.7,211.7 1313.2,211.6 1313.7,211.4 1314.2,211.3 1314.7,211.1 1315.2,211.0 1315.7,210.9 1316.2,210.8 1316.7,210.7 1317.2,210.7 1317.7,210.6 1318.2,210.6 1318.7,210.5 1319.2,210.4 1319.7,210.4 1320.2,210.3 1320.7,210.3 1321.2,210.2 1321.7,210.2 1322.2,210.2 1322.7,210.2 1323.2,210.2 1323.7,210.2 1324.2,210.2 1324.7,210.2 1325.2,210.2 1325.7,210.2 1326.2,210.2 1326.7,210.3 1327.2,210.3 1327.7,210.3 1328.2,210.4 1328.7,210.4 1329.2,210.4 1329.7,210.5 1330.2,210.5 1330.7,210.6 1331.2,210.7 1331.7,210.8 1332.2,210.9 1332.7,211.0 1333.2,211.1 1333.7,211.3 1334.2,211.4 1334.7,211.6 1335.2,211.7 1335.7,211.9 1336.2,212.1 1336.7,212.2 1337.2,212.4 1337.7,212.7 1338.2,212.9 1338.7,213.1 1339.2,213.4 1339.7,213.6 1340.2,213.9 1340.7,214.2 1341.2,214.5 1341.7,214.8 1342.2,215.0 1342.7,215.3 1343.2,215.6 1343.7,215.9 1344.2,216.2 1344.7,216.5 1345.2,216.8 1345.7,217.1 1346.2,217.5 1346.7,217.8 1347.2,218.1 1347.7,218.5 1348.2,218.8 1348.7,219.1 1349.2,219.5 1349.7,219.8 1350.2,220.1 1350.7,220.5 1351.2,220.9 1351.7,221.2 1352.2,221.6 1352.7,221.9 1353.2,222.3 1353.7,222.7 1354.2,223.0 1354.7,223.3 1355.2,223.7 1355.7,224.0 1356.2,224.3 1356.7,224.6 1357.2,224.9 1357.7,225.2 1358.2,225.4 1358.7,225.7 1359.2,226.0 1359.7,226.3 1360.2,226.6 1360.7,226.8 1361.2,227.2 1361.7,227.5 1362.2,227.8 1362.7,228.2 1363.2,228.5 1363.7,228.9 1364.2,229.3 1364.7,229.7 1365.2,230.1 1365.7,230.4 1366.2,230.8 1366.7,231.2 1367.2,231.5 1367.7,231.9 1368.2,232.2 1368.7,232.6 1369.2,232.9 1369.7,233.3 1370.2,233.6 1370.7,233.9 1371.2,234.3 1371.7,234.6 1372.2,234.9 1372.7,235.3 1373.2,235.6 1373.7,235.9 1374.2,236.2 1374.7,236.5 1375.2,236.8 1375.7,237.2 1376.2,237.5 1376.7,237.8 1377.2,238.1 1377.7,238.4 1378.2,238.7 1378.7,239.0 1379.2,239.3 1379.7,239.6 1380.2,239.8 1380.7,240.1 1381.2,240.4 1381.7,240.7 1382.2,240.9 1382.7,241.2 1383.2,241.5 1383.7,241.8 1384.2,242.0 1384.7,242.3 1385.2,242.6 1385.7,242.8 1386.2,243.1 1386.7,243.4 1387.2,243.7 1387.7,243.9 1388.2,244.2 1388.7,244.5 1389.2,244.8 1389.7,245.0 1390.2,245.3 1390.7,245.6 1391.2,245.9 1391.7,246.1 1392.2,246.4 1392.7,246.7 1393.2,247.0 1393.7,247.2 1394.2,247.5 1394.7,247.8 1395.2,248.1 1395.7,248.3 1396.2,248.6 1396.7,248.9 1397.2,249.2 1397.7,249.4 1398.2,249.7 1398.7,250.0 1399.2,250.3 1399.7,250.5 1400.2,250.8 1400.7,251.1 1401.2,251.4 1401.7,251.7 1402.2,251.9 1402.7,252.2 1403.2,252.5 1403.7,252.8 1404.2,253.1 1404.7,253.4 1405.2,253.7 1405.7,254.0 1406.2,254.3 1406.7,254.6 1407.2,254.9 1407.7,255.2 1408.2,255.6 1408.7,255.9 1409.2,256.2 1409.7,256.5 1410.2,256.8 1410.7,257.2 1411.2,257.5 1411.7,257.8 1412.2,258.2 1412.7,258.5 1413.2,258.9 1413.7,259.2 1414.2,259.6 1414.7,259.9 1415.2,260.3 1415.7,260.6 1416.2,261.0 1416.7,261.3 1417.2,261.7 1417.7,262.1 1418.2,262.4 1418.7,262.8 1419.2,263.3 1419.7,263.7 1420.2,264.1 1420.7,264.5 1421.2,264.9 1421.7,265.4 1422.2,265.8 1422.7,266.2 1423.2,266.6 1423.7,267.0 1424.2,267.4 1424.7,267.7 1425.2,268.1 1425.7,268.5 1426.2,268.9 1426.7,269.2 1427.2,269.6 1427.7,269.9 1428.2,270.3 1428.7,270.6 1429.2,270.9 1429.7,271.3 1430.2,271.6 1430.7,271.9 1431.2,272.2 1431.7,272.4 1432.2,272.7 1432.7,273.0 1433.2,273.3 1433.7,273.5 1434.2,273.8 1434.7,274.0 1435.2,274.3 1435.7,274.5 1436.2,274.8 1436.7,275.0 1437.2,275.2 1437.7,275.4 1438.2,275.6 1438.7,275.8 1439.2,276.0 1439.7,276.2 1440.2,276.4 1440.7,276.6 1441.2,276.8 1441.7,277.0 1442.2,277.2 1442.7,277.3 1443.2,277.5 1443.7,277.6 1444.2,277.8 1444.7,277.9 1445.2,278.1 1445.7,278.2 1446.2,278.4 1446.7,278.5 1447.2,278.6 1447.7,278.8 1448.2,278.9 1448.7,279.0 1449.2,279.1 1449.7,279.2 1450.2,279.3 1450.7,279.3 1451.2,279.4 1451.7,279.5 1452.2,279.6 1452.7,279.6 1453.2,279.7 1453.7,279.8 1454.2,279.8 1454.7,279.9 1455.2,280.0 1455.7,280.0 1456.2,280.1 1456.7,280.1 1457.2,280.2 1457.7,280.2 1458.2,280.3 1458.7,280.4 1459.2,280.4 1459.7,280.5 1460.2,280.5 1460.7,280.5 1461.2,280.6 1461.7,280.6 1462.2,280.6 1462.7,280.6 1463.2,280.6 1463.7,280.6 1464.2,280.5 1464.7,280.5 1465.2,280.5 1465.7,280.4 1466.2,280.4 1466.7,280.4 1467.2,280.3 1467.7,280.2 1468.2,280.0 1468.7,279.8 1469.2,279.7 1469.7,279.5 1470.2,279.3 1470.7,279.0 1471.2,278.7 1471.7,278.4 1472.2,278.2 1472.7,278.0 1473.2,277.9 1473.7,277.7 1474.2,277.6 1474.7,277.5 1475.2,277.5 1475.7,277.5 1476.2,277.5 1476.7,277.6 1477.2,277.7 1477.7,277.8 1478.2,277.9 1478.7,278.1 1479.2,278.3 1479.7,278.5 1480.2,278.6 1480.7,278.6 1481.2,278.5 1481.7,278.5 1482.2,278.4 1482.7,278.3 1483.2,278.2 1483.7,278.1 1484.2,278.0 1484.7,278.0 1485.2,277.9 1485.7,277.8 1486.2,277.8 1486.7,277.8 1487.2,278.0 1487.7,278.1 1488.2,278.3 1488.7,278.5 1489.2,278.7 1489.7,278.8 1490.2,278.9 1490.7,279.1 1491.2,279.2 1491.7,279.4 1492.2,279.5 1492.7,279.6 1493.2,279.7 1493.7,279.8 1494.2,279.9 1494.7,280.0 1495.2,280.0 1495.7,280.1 1496.2,280.2 1496.7,280.2 1497.2,280.3 1497.7,280.3 1498.2,280.2 1498.7,280.2 1499.2,280.2 1499.7,280.2 1500.2,280.1 1500.7,280.1 1501.2,280.1 1501.7,280.0 1502.2,280.0 1502.7,279.9 1503.2,279.8 1503.7,279.8 1504.2,279.7 1504.7,279.5 1505.2,279.4 1505.7,279.3 1506.2,279.2 1506.7,279.0 1507.2,278.8 1507.7,278.6 1508.2,278.4 1508.7,278.2 1509.2,278.1 1509.7,278.1 1510.2,278.1 1510.7,278.0 1511.2,278.0 1511.7,278.0 1512.2,278.0 1512.7,278.1 1513.2,278.3 1513.7,278.4 1514.2,278.6 1514.7,278.7 1515.2,278.9 1515.7,279.1 1516.2,279.2 1516.7,279.3 1517.2,279.4 1517.7,279.5 1518.2,279.5 1518.7,279.4 1519.2,279.4 1519.7,279.4 1520.2,279.3 1520.7,279.3 1521.2,279.2 1521.7,279.1 1522.2,278.9 1522.7,278.6 1523.2,278.4 1523.7,278.1 1524.2,277.7 1524.7,277.3 1525.2,276.7 1525.7,276.1 1526.2,275.3 1526.7,274.5 1527.2,273.6 1527.7,272.6 1528.2,271.4 1528.7,270.0 1529.2,268.3 1529.7,266.0 1530.2,263.3 1530.7,260.3 1531.2,256.9 1531.7,252.7 1532.2,246.8 1532.7,238.8 1533.2,227.8 1533.7,215.6 1534.2,201.6 1535.4,150.0 1536.3,105.0 1537.0,75.0 1537.5,65.2 1538.6,74.0 1539.6,100.0 1540.6,135.0 1541.4,165.0 1542.6,194.5 1543.1,209.6 1543.6,221.1 1544.1,230.5 1544.6,238.5 1545.1,245.0 1545.6,250.5 1546.1,254.9 1546.6,258.4 1547.1,261.3 1547.6,263.8 1548.1,265.9 1548.6,267.8 1549.1,269.4 1549.6,270.7 1550.1,271.9 1550.6,273.0 1551.1,273.9 1551.6,274.7 1552.1,275.4 1552.6,276.0 1553.1,276.6 1553.6,277.0 1554.1,277.5 1554.6,277.9 1555.1,278.2 1555.6,278.5 1556.1,278.7 1556.6,279.0 1557.1,279.2 1557.6,279.4 1558.1,279.6 1558.6,279.8 1559.1,279.9 1559.6,280.0 1560.1,280.1 1560.6,280.2 1561.1,280.3 1561.6,280.4 1562.1,280.5 1562.6,280.5 1563.1,280.6 1563.6,280.6 1564.1,280.6 1564.6,280.6 1565.1,280.5 1565.6,280.5 1566.1,280.4 1566.6,280.3 1567.1,280.2 1567.6,280.1 1568.1,280.0 1568.6,279.9 1569.1,279.8 1569.6,279.7 1570.1,279.5 1570.6,279.3 1571.1,279.0 1571.6,278.8 1572.1,278.5 1572.6,278.1 1573.1,277.7 1573.6,277.2 1574.1,276.6 1574.6,275.9 1575.1,275.0 1575.6,274.0 1576.1,272.9 1576.6,271.6 1577.1,270.1 1577.6,268.4 1578.1,266.7 1578.6,265.0 1579.1,263.1 1579.6,261.3 1580.1,259.5 1580.6,257.9 1581.1,256.3 1581.6,254.8 1582.1,253.6 1582.6,252.6 1583.1,251.8 1583.6,251.2 1584.1,250.9 1584.6,250.7 1585.1,250.7 1585.6,251.0 1586.1,251.4 1586.6,252.2 1587.1,253.4 1587.6,254.6 1588.1,256.0 1588.6,257.5 1589.1,259.0 1589.6,260.5 1590.1,262.0 1590.6,263.6 1591.1,265.2 1591.6,266.6 1592.1,267.9 1592.6,269.1 1593.1,270.3 1593.6,271.3 1594.1,272.3 1594.6,273.3 1595.1,274.2 1595.6,275.0 1596.1,275.7 1596.6,276.3 1597.1,276.9 1597.6,277.4 1598.1,277.8 1598.6,278.2 1599.1,278.6 1599.6,278.9 1600.1,279.2 1600.6,279.5 1601.1,279.7 1601.6,280.0 1602.1,280.2 1602.6,280.4 1603.1,280.5 1603.6,280.7 1604.1,280.8 1604.6,280.9 1605.1,281.0 1605.6,281.2 1606.1,281.3 1606.6,281.4 1607.1,281.4 1607.6,281.5 1608.1,281.6 1608.6,281.7 1609.1,281.8 1609.6,281.9 1610.1,281.9 1610.6,282.0 1611.1,282.1 1611.6,282.2 1612.1,282.2 1612.6,282.3 1613.1,282.4 1613.6,282.5 1614.1,282.5 1614.6,282.6 1615.1,282.6 1615.6,282.7 1616.1,282.7 1616.6,282.8 1617.1,282.8 1617.6,282.9 1618.1,282.9 1618.6,282.9 1619.1,283.0 1619.6,283.0 1620.1,283.0 1620.6,283.1 1621.1,283.1 1621.6,283.1 1622.1,283.2 1622.6,283.2 1623.1,283.2 1623.6,283.3 1624.1,283.3 1624.6,283.3 1625.1,283.3 1625.6,283.3 1626.1,283.4 1626.6,283.4 1627.1,283.4 1627.6,283.4 1628.1,283.4 1628.6,283.4 1629.1,283.4 1629.6,283.4 1630.1,283.4 1630.6,283.4 1631.1,283.4 1631.6,283.4 1632.1,283.4 1632.6,283.4 1633.1,283.4 1633.6,283.4 1634.1,283.4 1634.6,283.4 1635.1,283.4 1635.6,283.4 1636.1,283.4 1636.6,283.4 1637.1,283.4 1637.6,283.5 1638.1,283.5 1638.6,283.5 1639.1,283.5 1639.6,283.5 1640.1,283.5 1640.6,283.5 1641.1,283.5 1641.6,283.5 1642.1,283.5 1642.6,283.5 1643.1,283.5 1643.6,283.5 1644.1,283.5 1644.6,283.5 1645.1,283.5 1645.6,283.5 1646.1,283.5 1646.6,283.5 1647.1,283.5 1647.6,283.5 1648.1,283.5 1648.6,283.5 1649.1,283.5 1649.6,283.5 1650.1,283.5 1650.6,283.5 1651.1,283.5 1651.6,283.5 1652.1,283.5 1652.6,283.5 1653.1,283.5 1653.6,283.5 1654.1,283.5 1654.6,283.5 1655.1,283.5 1655.6,283.5 1656.1,283.5 1656.6,283.5 1657.1,283.5 1657.6,283.5 1658.1,283.5 1658.6,283.5 1659.1,283.6 1659.6,283.6 1660.1,283.6 1660.6,283.6 1661.1,283.6 1661.6,283.6 1662.1,283.6 1662.6,283.6 1663.1,283.6 1663.6,283.6 1664.1,283.6 1664.6,283.6 1665.1,283.6 1665.6,283.6 1666.1,283.6 1666.6,283.6 1667.1,283.6 1667.6,283.6 1668.1,283.6 1668.6,283.6 1669.1,283.6 1669.6,283.6 1670.1,283.6 1670.6,283.6 1671.1,283.6 1671.6,283.6 1672.1,283.6 1672.6,283.6 1673.1,283.6 1673.6,283.6 1674.1,283.6 1674.6,283.6 1675.1,283.6 1675.6,283.6 1676.1,283.6 1676.6,283.6 1677.1,283.6 1677.6,283.6 1678.1,283.6 1678.6,283.6 1679.1,283.6 1679.6,283.6 1680.1,283.6 1680.6,283.6 1681.1,283.6 1681.6,283.6 1682.1,283.6 1682.6,283.6 1683.1,283.6 1683.6,283.6 1684.1,283.6 1684.6,283.6 1685.1,283.6 1685.6,283.6 1686.1,283.6 1686.6,283.6 1687.1,283.6 1687.6,283.6 1688.1,283.6 1688.6,283.6 1689.1,283.6 1689.6,283.6 1690.1,283.6 1690.6,283.6 1691.1,283.6 1691.6,283.6 1692.1,283.6 1692.6,283.6 1693.1,283.6 1693.6,283.6 1694.1,283.6 1694.6,283.6 1695.1,283.6 1695.6,283.6 1696.1,283.6 1696.6,283.6 1697.1,283.6 1697.6,283.6 1698.1,283.6 1698.6,283.6 1699.1,283.6 1699.6,283.6 1700.1,283.6 1700.6,283.6 1701.1,283.6 1701.6,283.6 1702.1,283.6 1702.6,283.6 1703.1,283.6 1703.6,283.6 1704.1,283.6 1704.6,283.6 1705.1,283.6 1705.6,283.6 1706.1,283.6 1706.6,283.6 1707.1,283.6 1707.6,283.6 1708.1,283.6 1708.6,283.6 1709.1,283.6 1709.6,283.6 1710.1,283.6 1710.6,283.6 1711.1,283.6 1711.6,283.6 1712.1,283.6 1712.6,283.6 1713.1,283.6 1713.6,283.6 1714.1,283.6 1714.6,283.6 1715.1,283.6 1715.6,283.6 1716.1,283.6 1716.6,283.6 1717.1,283.6 1717.6,283.6 1718.1,283.6 1718.6,283.6 1719.1,283.6 1719.6,283.6 1720.1,283.6 1720.6,283.6 1721.1,283.6 1721.6,283.6 1722.1,283.6 1722.6,283.6 1723.1,283.6 1723.6,283.6 1724.1,283.6 1724.6,283.6 1725.1,283.6 1725.6,283.6 1726.1,283.6 1726.6,283.6 1727.1,283.6 1727.6,283.6 1728.1,283.6 1728.6,283.6 1729.1,283.6 1729.6,283.6 1730.1,283.6 1730.6,283.6 1731.1,283.6 1731.6,283.6 1732.1,283.6 1732.6,283.6 1733.1,283.6 1733.6,283.6 1734.1,283.6 1734.6,283.6 1735.1,283.6 1735.6,283.6 1736.1,283.6 1736.6,283.6 1737.1,283.6 1737.6,283.6 1738.1,283.6 1738.6,283.6 1739.1,283.6 1739.6,283.6 1740.1,283.6 1740.6,283.6 1741.1,283.6 1741.6,283.6 1742.1,283.6 1742.6,283.6 1743.1,283.6 1743.6,283.6 1744.1,283.6 1744.6,283.6 1745.1,283.6 1745.6,283.6 1746.1,283.6 1746.6,283.6 1747.1,283.6 1747.6,283.6 1748.1,283.6 1748.6,283.6 1749.1,283.6 1749.6,283.6 1750.1,283.6 1750.6,283.6 1751.1,283.6 1751.6,283.6 1752.1,283.6 1752.6,283.6 1753.1,283.6 1753.6,283.6 1754.1,283.6 1754.6,283.6 1755.1,283.6 1755.6,283.6 1756.1,283.6 1756.6,283.6 1757.1,283.6 1757.6,283.6 1758.1,283.6 1758.6,283.6 1759.1,283.6 1759.6,283.6 1760.1,283.6 1760.6,283.6 1761.1,283.6 1761.6,283.6 1762.1,283.6 1762.6,283.6 1763.1,283.6 1763.6,283.6 1764.1,283.6 1764.6,283.6 1765.1,283.6 1765.6,283.6 1766.1,283.6 1766.6,283.6 1767.1,283.6 1767.6,283.6 1768.1,283.6 1768.6,283.6 1769.1,283.6 1769.6,283.6 1770.1,283.6 1770.6,283.6 1771.1,283.6 1771.6,283.6 1772.1,283.6 1772.6,283.6 1773.1,283.6 1773.6,283.6 1774.1,283.6 1774.6,283.6 1775.1,283.6 1775.6,283.6 1776.1,283.6 1776.6,283.6 1777.1,283.6 1777.6,283.6 1778.1,283.6 1778.6,283.6 1779.1,283.6 1779.6,283.6 1780.1,283.6 1780.6,283.6 1781.1,283.6 1781.6,283.6 1782.1,283.6 1782.6,283.6 1783.1,283.6 1783.6,283.6 1784.1,283.6 1784.6,283.6 1785.1,283.6 1785.6,283.6 1786.1,283.6 1786.6,283.6 1787.1,283.6 1787.6,283.6 1788.1,283.6 1788.6,283.6 1789.1,283.6 1789.6,283.6 1790.1,283.6 1790.6,283.6 1791.1,283.6 1791.6,283.6 1792.1,283.6 1792.6,283.6 1793.1,283.6 1793.6,283.6 1794.1,283.6 1794.6,283.6 1795.1,283.6 1795.6,283.6 1796.1,283.6 1796.6,283.6 1797.1,283.6 1797.6,283.6 1798.1,283.6 1798.6,283.6 1799.1,283.6 1799.6,283.6 1800.1,283.6 1800.6,283.6 1801.1,283.6 1801.6,283.6 1802.1,283.6 1802.6,283.6 1803.1,283.6 1803.6,283.6 1804.1,283.6 1804.6,283.6 1805.1,283.6 1805.6,283.6 1806.1,283.6 1806.6,283.6 1807.1,283.6 1807.6,283.6 1808.1,283.6 1808.6,283.6 1809.1,283.6 1809.6,283.6 1810.1,283.6 1810.6,283.6 1811.1,283.6 1811.6,283.6 1812.1,283.6 1812.6,283.6 1813.1,283.6 1813.6,283.6 1814.1,283.6 1814.6,283.6 1815.1,283.6 1815.6,283.6 1816.1,283.6 1816.6,283.6 1817.1,283.6 1817.6,283.6 1818.1,283.6 1818.6,283.6 1819.1,283.6 1819.6,283.6 1820.1,283.6 1820.6,283.6 1821.1,283.6 1821.6,283.6 1822.1,283.6 1822.6,283.6 1823.1,283.6 1823.6,283.6 1824.1,283.6 1824.6,283.6 1825.1,283.6 1825.6,283.6 1826.1,283.6 1826.6,283.6 1827.1,283.6 1827.6,283.6 1828.1,283.6 1828.6,283.6 1829.1,283.6 1829.6,283.6 1830.1,283.6 1830.6,283.6 1831.1,283.6 1831.6,283.6 1832.1,283.6 1832.6,283.6 1833.1,283.6 1833.6,283.6 1834.1,283.6 1834.6,283.6 1835.1,283.6 1835.6,283.6 1836.1,283.6 1836.6,283.6 1837.1,283.6 1837.6,283.6 1838.1,283.6 1838.6,283.6 1839.1,283.6 1839.6,283.6 1840.1,283.6 1840.6,283.6 1841.1,283.6 1841.6,283.6 1842.1,283.6 1842.6,283.6 1843.1,283.6 1843.6,283.6 1844.1,283.6" fill="none" stroke="#2d3889" stroke-width="2.85" stroke-linejoin="round" stroke-linecap="round"/>
<text transform="translate(984.40 37.10) scale(0.9200 1)" font-size="35.4" fill="#2b3030">100</text>
<text transform="translate(1002.35 87.65) scale(0.9200 1)" font-size="35.4" fill="#2b3030">80</text>
<text transform="translate(1002.35 138.65) scale(0.9200 1)" font-size="35.4" fill="#2b3030">60</text>
<text transform="translate(1002.85 188.70) scale(0.9200 1)" font-size="35.4" fill="#2b3030">40</text>
<text transform="translate(1002.35 239.55) scale(0.9200 1)" font-size="35.4" fill="#2b3030">20</text>
<text transform="translate(1020.95 290.55) scale(0.9200 1)" font-size="35.4" fill="#2b3030">0</text>
<text transform="translate(1037.00 316.70) scale(0.9200 1)" font-size="35.4" fill="#2b3030">2000</text>
<text transform="translate(1291.50 316.70) scale(0.9200 1)" font-size="35.4" fill="#2b3030">2500</text>
<text transform="translate(1547.10 316.70) scale(0.9200 1)" font-size="35.4" fill="#2b3030">3000</text>
<text transform="translate(1805.00 316.70) scale(0.9200 1)" font-size="35.4" fill="#2b3030">3500</text>
<text transform="translate(937.35 34.85) scale(0.9600 1)" font-size="48" fill="#231815" font-weight="bold">d</text>
<text transform="translate(982.70 226.30) rotate(-90) scale(0.9390 1)" font-size="44.5" fill="#000000" font-weight="bold">Int. a.u.</text>
<text transform="translate(1284.45 356.15) scale(1.0150 1)" font-size="41" fill="#000000" font-weight="bold">Raman shift (cm<tspan font-size="24" dy="-13.6">-1</tspan><tspan dy="13.6">)</tspan></text>
<text transform="translate(1115.50 86.80) scale(0.9490 1)" font-size="34.8" fill="#231815">DMSO:D<tspan font-size="20.5" dy="11.3">2</tspan><tspan dy="-11.3">O = 1:9</tspan></text>
<text transform="translate(1209.00 169.50) scale(0.9520 1)" font-size="26" fill="#231815">O-D stretching of D<tspan font-size="15" dy="7.5">2</tspan><tspan dy="-7.5">O</tspan></text>
<polyline points="1197.6,194 1197.6,185 1460.3,185 1460.3,194" fill="none" stroke="#1e2423" stroke-width="1.9"/>
<line x1="355.80" y1="402.40" x2="355.80" y2="780.80" stroke="#bcc0c2" stroke-width="1.2" stroke-dasharray="4.2 2.6"/>
<rect x="100.60" y="402.40" width="330.60" height="125.90" fill="none" stroke="#1e2423" stroke-width="2.8"/>
<rect x="100.60" y="528.30" width="330.60" height="126.50" fill="none" stroke="#1e2423" stroke-width="2.8"/>
<rect x="100.60" y="654.80" width="330.60" height="126.00" fill="none" stroke="#1e2423" stroke-width="2.8"/>
<line x1="131.00" y1="402.40" x2="131.00" y2="405.80" stroke="#1e2423" stroke-width="2.5"/>
<line x1="131.00" y1="525.50" x2="131.00" y2="531.70" stroke="#1e2423" stroke-width="2.5"/>
<line x1="131.00" y1="652.00" x2="131.00" y2="658.20" stroke="#1e2423" stroke-width="2.5"/>
<line x1="131.00" y1="780.80" x2="131.00" y2="778.00" stroke="#1e2423" stroke-width="2.5"/>
<line x1="231.00" y1="402.40" x2="231.00" y2="405.80" stroke="#1e2423" stroke-width="2.5"/>
<line x1="231.00" y1="525.50" x2="231.00" y2="531.70" stroke="#1e2423" stroke-width="2.5"/>
<line x1="231.00" y1="652.00" x2="231.00" y2="658.20" stroke="#1e2423" stroke-width="2.5"/>
<line x1="231.00" y1="780.80" x2="231.00" y2="778.00" stroke="#1e2423" stroke-width="2.5"/>
<line x1="331.00" y1="402.40" x2="331.00" y2="405.80" stroke="#1e2423" stroke-width="2.5"/>
<line x1="331.00" y1="525.50" x2="331.00" y2="531.70" stroke="#1e2423" stroke-width="2.5"/>
<line x1="331.00" y1="652.00" x2="331.00" y2="658.20" stroke="#1e2423" stroke-width="2.5"/>
<line x1="331.00" y1="780.80" x2="331.00" y2="778.00" stroke="#1e2423" stroke-width="2.5"/>
<line x1="100.60" y1="405.90" x2="104.20" y2="405.90" stroke="#1e2423" stroke-width="2.5"/>
<line x1="431.20" y1="405.90" x2="427.60" y2="405.90" stroke="#1e2423" stroke-width="2.5"/>
<line x1="100.60" y1="467.10" x2="104.20" y2="467.10" stroke="#1e2423" stroke-width="2.5"/>
<line x1="431.20" y1="467.10" x2="427.60" y2="467.10" stroke="#1e2423" stroke-width="2.5"/>
<line x1="100.60" y1="535.70" x2="104.20" y2="535.70" stroke="#1e2423" stroke-width="2.5"/>
<line x1="431.20" y1="535.70" x2="427.60" y2="535.70" stroke="#1e2423" stroke-width="2.5"/>
<line x1="100.60" y1="595.00" x2="104.20" y2="595.00" stroke="#1e2423" stroke-width="2.5"/>
<line x1="431.20" y1="595.00" x2="427.60" y2="595.00" stroke="#1e2423" stroke-width="2.5"/>
<line x1="100.60" y1="679.00" x2="104.20" y2="679.00" stroke="#1e2423" stroke-width="2.5"/>
<line x1="431.20" y1="679.00" x2="427.60" y2="679.00" stroke="#1e2423" stroke-width="2.5"/>
<line x1="100.60" y1="730.60" x2="104.20" y2="730.60" stroke="#1e2423" stroke-width="2.5"/>
<line x1="431.20" y1="730.60" x2="427.60" y2="730.60" stroke="#1e2423" stroke-width="2.5"/>
<polyline points="100.7,509.4 102.9,497.2 104.7,489.4 106.7,494.4 108.6,500.8 110.7,501.2 112.8,499.4 114.3,501.5 116.4,510.1 118.6,508.4 121.4,505.1 124.3,499.4 126.1,502.2 128.1,510.1 130.4,512.2 132.4,505.8 134.7,498.7 136.7,497.9 138.5,492.2 140.4,487.0 142.4,492.2 144.3,500.1 146.4,497.9 148.5,495.1 150.7,495.5 152.1,497.2 153.8,493.7 156.1,492.7 158.5,494.4 160.4,495.1 162.1,489.4 164.2,481.2 166.1,485.8 168.1,493.0 170.0,490.4 172.1,489.8 173.8,497.9 175.7,502.9 177.8,501.5 180.7,498.4 182.8,500.1 184.2,501.8 186.4,501.2 188.5,500.8 189.9,502.2 192.1,498.9 194.9,498.4 196.7,495.8 198.9,495.5 201.4,490.1 202.8,490.8 204.9,497.2 206.4,499.8 208.5,491.5 210.7,483.0 213.2,478.0 215.2,484.4 217.5,493.2 219.2,493.0 221.4,486.5 223.5,485.8 225.6,488.7 227.8,480.1 230.6,468.7 233.5,454.4 236.4,447.3 239.2,440.1 241.8,435.1 244.2,440.1 246.6,448.7 249.2,460.1 251.3,469.4 253.5,473.2 255.6,467.3 257.8,458.0 259.5,456.5 261.3,459.4 264.2,465.8 266.3,469.4 267.8,470.1 269.2,465.8 270.9,477.2 273.2,488.7 275.2,495.1 277.0,483.0 279.2,461.5 281.3,450.8 283.2,457.3 285.6,470.1 287.8,483.0 289.5,490.4 291.3,488.7 293.2,477.2 295.6,476.5 297.7,475.1 299.9,471.5 301.3,469.0 303.2,470.1 304.9,476.5 306.6,470.8 309.2,469.8 312.0,469.4 314.9,473.0 317.0,468.0 319.2,468.0 320.9,461.8 323.2,461.3 324.9,470.1 327.0,481.5 329.2,486.5 330.9,480.8 332.7,475.1 334.9,484.1 337.0,483.0 338.9,477.2 340.9,480.8 343.4,474.4 345.6,464.4 347.4,458.0 349.4,457.3 351.3,459.4 353.1,450.1 354.9,434.4 356.7,423.7 358.5,431.6 360.3,445.8 362.5,463.0 364.5,475.1 366.8,476.1 368.8,475.1 370.6,483.0 372.5,494.4 374.5,496.5 376.3,490.1 378.5,480.8 380.6,475.1 382.5,483.0 384.2,495.8 386.3,502.2 388.2,494.4 389.9,485.8 392.0,483.0 393.5,491.5 394.9,497.9 396.7,490.1 398.4,480.1 400.6,473.2 402.4,480.8 404.4,490.8 406.3,493.7 408.2,492.7 410.2,497.2 412.0,500.8 414.2,493.0 416.3,488.7 418.4,491.5 420.6,495.8 422.7,497.2 424.9,497.9 427.0,501.5 429.1,505.8 431.0,511.5" fill="none" stroke="#1b9ad6" stroke-width="2.7" stroke-linejoin="round" stroke-linecap="round"/>
<polyline points="100.7,648.2 103.6,648.8 106.4,649.2 109.3,648.2 112.1,647.9 115.0,648.5 117.8,648.8 120.0,646.8 122.1,645.7 124.3,648.5 126.4,647.4 128.6,644.2 130.7,643.9 132.8,645.7 135.0,647.8 137.8,648.8 140.7,648.5 142.8,648.2 145.0,650.2 146.7,651.4 148.5,647.8 150.7,646.8 152.8,648.2 155.0,650.2 157.8,651.4 162.1,652.1 166.4,651.6 169.2,650.6 172.1,649.2 175.0,649.7 177.8,647.8 180.7,647.4 182.8,644.9 184.2,643.9 186.4,644.9 189.2,644.2 192.1,643.5 194.2,643.8 196.4,645.4 197.8,645.9 199.9,642.8 202.1,637.8 204.2,630.7 206.4,621.4 208.1,617.4 209.9,617.8 212.1,622.1 214.2,629.9 216.4,638.5 218.1,643.5 219.9,644.9 222.8,644.7 224.9,644.2 227.1,646.4 229.2,647.8 232.1,646.4 235.6,645.9 238.5,644.9 240.9,643.9 243.2,647.1 245.2,648.2 247.1,642.8 248.9,634.2 250.6,628.2 252.1,627.5 254.2,629.2 256.3,631.4 258.5,632.1 260.3,635.7 262.1,640.7 264.2,643.5 267.1,644.9 269.9,644.9 272.0,642.8 273.8,635.7 275.2,621.4 276.6,601.4 278.0,578.5 279.5,558.3 281.0,549.4 282.6,559.7 284.2,580.0 286.0,604.2 288.0,624.2 289.9,636.4 291.8,641.1 294.2,641.8 297.0,640.7 299.9,639.9 302.7,640.7 305.6,642.1 307.7,643.5 309.9,644.2 312.7,646.4 315.6,643.5 317.7,643.1 320.6,643.8 323.4,643.9 326.3,644.5 329.2,643.5 332.0,644.2 334.9,644.9 337.7,642.1 339.9,639.2 342.7,637.4 345.6,634.9 347.7,629.9 349.4,621.4 351.0,605.7 352.4,584.3 353.7,563.6 355.1,553.3 356.6,556.0 358.2,565.7 359.9,587.1 361.6,607.1 363.5,622.8 365.6,632.1 367.8,637.1 369.9,640.2 372.7,642.1 375.6,644.9 378.5,645.9 381.3,647.1 384.2,648.5 387.0,649.7 390.6,648.8 394.2,648.2 397.0,648.8 399.9,647.9 403.4,649.7 406.3,648.5 409.9,646.4 413.4,644.5 416.3,643.9 419.2,644.9 422.0,646.8 424.9,646.4 427.7,647.1 431.0,648.2" fill="none" stroke="#d9343b" stroke-width="2.7" stroke-linejoin="round" stroke-linecap="round"/>
<polyline points="100.7,777.7 101.2,777.6 101.7,777.6 102.2,777.5 102.7,777.5 103.2,777.4 103.7,777.4 104.2,777.3 104.7,777.3 105.2,777.2 105.7,777.2 106.2,777.1 106.7,777.1 107.2,777.0 107.7,777.0 108.2,776.9 108.7,776.9 109.2,776.8 109.7,776.8 110.2,776.7 110.7,776.7 111.2,776.6 111.7,776.6 112.2,776.5 112.7,776.4 113.2,776.4 113.7,776.3 114.2,776.3 114.7,776.2 115.2,776.2 115.7,776.1 116.2,776.0 116.7,776.0 117.2,775.9 117.7,775.8 118.2,775.7 118.7,775.6 119.2,775.5 119.7,775.4 120.2,775.2 120.7,775.1 121.2,774.9 121.7,774.6 122.2,774.3 122.7,773.9 123.2,773.4 123.7,772.9 124.2,772.3 124.7,771.6 125.2,770.8 125.7,770.0 126.2,769.3 126.7,768.8 127.2,768.3 127.7,767.9 128.2,767.6 128.7,767.5 129.2,767.6 129.7,767.8 130.2,768.0 130.7,768.2 131.2,768.6 131.7,769.2 132.2,769.9 132.7,770.4 133.2,770.8 133.7,771.2 134.2,771.5 134.7,771.7 135.2,771.8 135.7,771.9 136.2,772.0 136.7,772.1 137.2,772.1 137.7,772.2 138.2,772.3 138.7,772.5 139.2,772.7 139.7,772.9 140.2,773.2 140.7,773.4 141.2,773.6 141.7,773.8 142.2,774.0 142.7,774.2 143.2,774.3 143.7,774.4 144.2,774.2 144.7,773.8 145.2,773.4 145.7,772.9 146.2,772.3 146.7,771.6 147.2,770.9 147.7,770.4 148.2,770.3 148.7,770.2 149.2,770.1 149.7,770.1 150.2,770.1 150.7,770.4 151.2,771.0 151.7,771.5 152.2,772.0 152.7,772.6 153.2,773.1 153.7,773.7 154.2,774.2 154.7,774.6 155.2,774.9 155.7,775.2 156.2,775.4 156.7,775.5 157.2,775.7 157.7,775.8 158.2,775.8 158.7,775.9 159.2,776.0 159.7,776.0 160.2,776.0 160.7,776.1 161.2,776.1 161.7,776.1 162.2,776.0 162.7,775.9 163.2,775.7 163.7,775.5 164.2,775.3 164.7,775.2 165.2,775.0 165.7,774.9 166.2,774.7 166.7,774.6 167.2,774.5 167.7,774.4 168.2,774.3 168.7,774.3 169.2,774.3 169.7,774.2 170.2,774.2 170.7,774.2 171.2,774.1 171.7,774.1 172.2,774.1 172.7,774.0 173.2,774.0 173.7,774.0 174.2,773.9 174.7,773.9 175.2,773.8 175.7,773.7 176.2,773.7 176.7,773.6 177.2,773.5 177.7,773.4 178.2,773.3 178.7,773.1 179.2,772.9 179.7,772.7 180.2,772.5 180.7,772.2 181.2,771.9 181.7,771.5 182.2,771.1 182.7,770.8 183.2,770.6 183.7,770.4 184.2,770.2 184.7,770.1 185.2,770.1 185.7,770.2 186.2,770.4 186.7,770.6 187.2,770.7 187.7,770.8 188.2,770.8 188.7,770.8 189.2,770.8 189.7,770.8 190.2,770.8 190.7,770.8 191.2,770.7 191.7,770.5 192.2,770.2 192.7,769.9 193.2,769.7 193.7,769.6 194.2,769.6 194.7,769.5 195.2,769.5 195.7,769.4 196.2,769.4 196.7,769.3 197.2,769.2 197.7,769.1 198.2,769.0 198.7,768.9 199.2,768.7 199.7,768.3 200.2,767.8 200.7,767.0 201.2,766.1 201.7,765.0 202.2,763.5 202.7,761.6 203.2,759.4 203.7,756.9 204.2,753.7 204.7,750.6 205.2,747.9 205.7,745.2 206.2,742.9 206.7,741.4 207.2,740.4 207.7,739.7 208.2,739.2 208.7,739.1 209.2,739.2 209.7,739.4 210.2,739.6 210.7,740.0 211.2,741.1 211.7,742.5 212.2,744.1 212.7,746.1 213.2,748.5 213.7,751.1 214.2,753.6 214.7,756.1 215.2,758.6 215.7,761.0 216.2,763.1 216.7,764.8 217.2,766.4 217.7,767.8 218.2,768.7 218.7,769.2 219.2,769.6 219.7,769.9 220.2,770.0 220.7,770.1 221.2,770.1 221.7,770.1 222.2,770.1 222.7,770.1 223.2,770.1 223.7,770.1 224.2,770.2 224.7,770.5 225.2,770.8 225.7,771.2 226.2,771.4 226.7,771.7 227.2,771.9 227.7,772.1 228.2,772.3 228.7,772.5 229.2,772.7 229.7,772.8 230.2,772.9 230.7,773.0 231.2,773.0 231.7,773.1 232.2,773.1 232.7,773.1 233.2,773.0 233.7,772.9 234.2,772.8 234.7,772.7 235.2,772.6 235.7,772.5 236.2,772.4 236.7,772.3 237.2,772.1 237.7,772.0 238.2,771.9 238.7,771.7 239.2,771.5 239.7,771.3 240.2,771.1 240.7,770.8 241.2,770.5 241.7,770.2 242.2,769.9 242.7,769.4 243.2,768.9 243.7,768.3 244.2,767.4 244.7,766.5 245.2,765.4 245.7,764.2 246.2,762.5 246.7,760.3 247.2,757.9 247.7,755.3 248.2,752.2 248.7,749.0 249.2,746.5 249.7,744.6 250.2,742.9 250.7,741.8 251.2,741.2 251.7,740.9 252.2,740.8 252.7,741.0 253.2,741.5 253.7,742.0 254.2,742.5 254.7,743.1 255.2,743.9 255.7,744.7 256.2,745.6 256.7,746.6 257.2,747.7 257.7,749.0 258.2,750.3 258.7,751.7 259.2,753.1 259.7,754.6 260.2,756.1 260.7,757.6 261.2,759.0 261.7,760.4 262.2,761.7 262.7,762.9 263.2,763.9 263.7,764.7 264.2,765.5 264.7,766.1 265.2,766.6 265.7,766.8 266.2,767.0 266.7,767.1 267.2,767.2 267.7,767.2 268.2,767.2 268.7,767.1 269.2,767.0 269.7,766.9 270.2,766.6 270.7,766.1 271.2,765.4 271.7,764.4 272.2,763.2 272.7,761.3 273.2,758.6 273.7,755.4 274.2,751.4 274.7,746.3 275.2,740.6 275.7,734.1 276.2,726.9 276.7,719.4 277.2,711.2 277.7,702.9 278.2,695.6 278.7,688.5 279.2,682.7 279.7,679.6 280.2,677.4 280.7,676.0 281.2,675.8 281.7,677.4 282.2,680.0 282.7,683.3 283.2,688.6 283.7,695.1 284.2,701.7 284.7,709.0 285.2,716.6 285.7,723.5 286.2,729.8 286.7,735.8 287.2,741.2 287.7,745.9 288.2,750.5 288.7,754.6 289.2,758.0 289.7,760.5 290.2,762.7 290.7,764.6 291.2,766.1 291.7,767.2 292.2,767.9 292.7,768.5 293.2,768.9 293.7,769.3 294.2,769.4 294.7,769.3 295.2,769.2 295.7,769.0 296.2,768.7 296.7,768.4 297.2,767.9 297.7,767.3 298.2,766.8 298.7,766.3 299.2,765.8 299.7,765.3 300.2,764.9 300.7,764.6 301.2,764.4 301.7,764.2 302.2,764.0 302.7,763.9 303.2,764.0 303.7,764.0 304.2,764.2 304.7,764.3 305.2,764.5 305.7,765.0 306.2,765.5 306.7,766.1 307.2,766.7 307.7,767.4 308.2,768.2 308.7,768.9 309.2,769.4 309.7,769.8 310.2,770.2 310.7,770.6 311.2,770.9 311.7,771.1 312.2,771.3 312.7,771.4 313.2,771.5 313.7,771.6 314.2,771.7 314.7,771.8 315.2,771.9 315.7,772.0 316.2,772.1 316.7,772.2 317.2,772.3 317.7,772.5 318.2,772.6 318.7,772.6 319.2,772.7 319.7,772.7 320.2,772.7 320.7,772.7 321.2,772.7 321.7,772.7 322.2,772.7 322.7,772.7 323.2,772.6 323.7,772.3 324.2,772.0 324.7,771.5 325.2,771.1 325.7,770.7 326.2,770.2 326.7,769.7 327.2,769.2 327.7,768.7 328.2,768.3 328.7,768.1 329.2,767.9 329.7,767.8 330.2,767.7 330.7,767.7 331.2,767.7 331.7,767.9 332.2,768.1 332.7,768.2 333.2,768.4 333.7,768.5 334.2,768.6 334.7,768.8 335.2,768.9 335.7,769.0 336.2,769.0 336.7,769.1 337.2,769.2 337.7,769.3 338.2,769.3 338.7,769.4 339.2,769.4 339.7,769.3 340.2,769.3 340.7,769.2 341.2,769.1 341.7,769.0 342.2,768.8 342.7,768.7 343.2,768.4 343.7,768.1 344.2,767.6 344.7,767.0 345.2,766.4 345.7,765.6 346.2,764.5 346.7,763.0 347.2,761.3 347.7,759.2 348.2,757.0 348.7,754.0 349.2,750.4 349.7,746.4 350.2,741.9 350.7,736.6 351.2,730.9 351.7,724.9 352.2,718.0 352.7,711.1 353.2,705.7 353.7,701.2 354.2,697.7 354.7,696.0 355.2,695.1 355.7,694.6 356.2,694.9 356.7,697.3 357.2,700.1 357.7,703.5 358.2,707.5 358.7,712.4 359.2,718.3 359.7,724.3 360.2,730.3 360.7,736.6 361.2,742.5 361.7,747.4 362.2,751.4 362.7,755.0 363.2,758.0 363.7,760.5 364.2,762.7 364.7,764.6 365.2,766.2 365.7,767.4 366.2,768.4 366.7,769.3 367.2,770.1 367.7,770.7 368.2,771.3 368.7,771.7 369.2,772.1 369.7,772.4 370.2,772.8 370.7,773.0 371.2,773.3 371.7,773.5 372.2,773.7 372.7,773.9 373.2,774.1 373.7,774.3 374.2,774.4 374.7,774.5 375.2,774.7 375.7,774.8 376.2,774.9 376.7,775.0 377.2,775.1 377.7,775.2 378.2,775.3 378.7,775.4 379.2,775.5 379.7,775.6 380.2,775.7 380.7,775.8 381.2,775.8 381.7,775.9 382.2,776.0 382.7,776.0 383.2,776.1 383.7,776.2 384.2,776.2 384.7,776.3 385.2,776.3 385.7,776.4 386.2,776.4 386.7,776.5 387.2,776.5 387.7,776.6 388.2,776.6 388.7,776.7 389.2,776.7 389.7,776.7 390.2,776.8 390.7,776.8 391.2,776.8 391.7,776.9 392.2,776.9 392.7,776.9 393.2,777.0 393.7,777.0 394.2,777.0 394.7,777.1 395.2,777.1 395.7,777.1 396.2,777.2 396.7,777.2 397.2,777.2 397.7,777.3 398.2,777.3 398.7,777.3 399.2,777.3 399.7,777.3 400.2,777.4 400.7,777.4 401.2,777.4 401.7,777.4 402.2,777.4 402.7,777.4 403.2,777.4 403.7,777.3 404.2,777.3 404.7,777.3 405.2,777.3 405.7,777.3 406.2,777.3 406.7,777.3 407.2,777.3 407.7,777.3 408.2,777.3 408.7,777.3 409.2,777.3 409.7,777.2 410.2,777.2 410.7,777.2 411.2,777.2 411.7,777.2 412.2,777.2 412.7,777.2 413.2,777.2 413.7,777.2 414.2,777.2 414.7,777.2 415.2,777.2 415.7,777.2 416.2,777.3 416.7,777.3 417.2,777.3 417.7,777.3 418.2,777.3 418.7,777.3 419.2,777.3 419.7,777.3 420.2,777.3 420.7,777.4 421.2,777.4 421.7,777.4 422.2,777.4 422.7,777.4 423.2,777.4 423.7,777.5 424.2,777.5 424.7,777.5 425.2,777.5 425.7,777.6 426.2,777.6 426.7,777.6 427.2,777.7 427.7,777.7 428.2,777.7 428.7,777.8 429.2,777.8 429.7,777.8 430.2,777.9 430.7,777.9" fill="none" stroke="#e28d35" stroke-width="2.7" stroke-linejoin="round" stroke-linecap="round"/>
<text transform="translate(52.45 417.10) scale(0.9200 1)" font-size="35.4" fill="#2b3030">0.8</text>
<text transform="translate(52.20 478.85) scale(0.9200 1)" font-size="35.4" fill="#2b3030">0.4</text>
<text transform="translate(79.85 547.75) scale(0.9200 1)" font-size="35.4" fill="#2b3030">4</text>
<text transform="translate(80.00 608.70) scale(0.9200 1)" font-size="35.4" fill="#2b3030">2</text>
<text transform="translate(62.00 690.75) scale(0.9200 1)" font-size="35.4" fill="#2b3030">40</text>
<text transform="translate(61.50 741.25) scale(0.9200 1)" font-size="35.4" fill="#2b3030">20</text>
<text transform="translate(80.20 785.75) scale(0.9200 1)" font-size="35.4" fill="#2b3030">0</text>
<text transform="translate(95.15 819.35) scale(0.9200 1)" font-size="35.4" fill="#2b3030">1200</text>
<text transform="translate(195.50 819.35) scale(0.9200 1)" font-size="35.4" fill="#2b3030">1400</text>
<text transform="translate(295.15 819.35) scale(0.9200 1)" font-size="35.4" fill="#2b3030">1600</text>
<text transform="translate(383.30 819.35) scale(0.9200 1)" font-size="35.4" fill="#2b3030">1800</text>
<text transform="translate(2.10 414.85) scale(0.9600 1)" font-size="48" fill="#231815" font-weight="bold">b</text>
<text transform="translate(39.00 715.85) rotate(-90) scale(0.9340 1)" font-size="44.5" fill="#000000" font-weight="bold">Intensity a.u.</text>
<text transform="translate(90.50 856.85) scale(1.0150 1)" font-size="41" fill="#000000" font-weight="bold">Raman shift (cm<tspan font-size="24" dy="-13.6">-1</tspan><tspan dy="13.6">)</tspan></text>
<text transform="translate(132.30 457.35) scale(0.9400 1)" font-size="35.4" fill="#1b9ad6">20µM</text>
<text transform="translate(123.95 597.75) scale(0.9300 1)" font-size="35.4" fill="#d9343b">100µM</text>
<text transform="translate(138.40 710.75) scale(0.9200 1)" font-size="35.4" fill="#e28d35">1mM</text>
<text transform="translate(385.20 633.25) rotate(-90) scale(0.9650 1)" font-size="21.5" fill="#231815">SNR = 119</text>
<ellipse cx="686.10" cy="641.20" rx="3.70" ry="3.30" fill="#231815"/>
<ellipse cx="778.20" cy="541.30" rx="3.70" ry="3.30" fill="#231815"/>
<ellipse cx="842.20" cy="468.80" rx="3.70" ry="3.30" fill="#231815"/>
<ellipse cx="869.60" cy="432.80" rx="3.70" ry="3.30" fill="#231815"/>
<line x1="622.70" y1="734.60" x2="622.70" y2="749.80" stroke="#231815" stroke-width="2.0"/>
<line x1="618.50" y1="734.60" x2="626.90" y2="734.60" stroke="#231815" stroke-width="2.0"/>
<line x1="618.50" y1="749.80" x2="626.90" y2="749.80" stroke="#231815" stroke-width="2.0"/>
<ellipse cx="622.70" cy="741.30" rx="3.10" ry="2.70" fill="#231815"/>
<rect x="566.90" y="402.50" width="330.70" height="378.30" fill="none" stroke="#1e2423" stroke-width="2.8"/>
<line x1="575.02" y1="402.50" x2="575.02" y2="405.70" stroke="#1e2423" stroke-width="2.1"/>
<line x1="575.02" y1="780.80" x2="575.02" y2="777.60" stroke="#1e2423" stroke-width="2.1"/>
<line x1="581.14" y1="402.50" x2="581.14" y2="405.70" stroke="#1e2423" stroke-width="2.1"/>
<line x1="581.14" y1="780.80" x2="581.14" y2="777.60" stroke="#1e2423" stroke-width="2.1"/>
<line x1="586.44" y1="402.50" x2="586.44" y2="405.70" stroke="#1e2423" stroke-width="2.1"/>
<line x1="586.44" y1="780.80" x2="586.44" y2="777.60" stroke="#1e2423" stroke-width="2.1"/>
<line x1="591.12" y1="402.50" x2="591.12" y2="405.70" stroke="#1e2423" stroke-width="2.1"/>
<line x1="591.12" y1="780.80" x2="591.12" y2="777.60" stroke="#1e2423" stroke-width="2.1"/>
<line x1="595.30" y1="402.50" x2="595.30" y2="407.90" stroke="#1e2423" stroke-width="2.1"/>
<line x1="595.30" y1="780.80" x2="595.30" y2="775.40" stroke="#1e2423" stroke-width="2.1"/>
<line x1="622.81" y1="402.50" x2="622.81" y2="405.70" stroke="#1e2423" stroke-width="2.1"/>
<line x1="622.81" y1="780.80" x2="622.81" y2="777.60" stroke="#1e2423" stroke-width="2.1"/>
<line x1="638.91" y1="402.50" x2="638.91" y2="405.70" stroke="#1e2423" stroke-width="2.1"/>
<line x1="638.91" y1="780.80" x2="638.91" y2="777.60" stroke="#1e2423" stroke-width="2.1"/>
<line x1="650.33" y1="402.50" x2="650.33" y2="405.70" stroke="#1e2423" stroke-width="2.1"/>
<line x1="650.33" y1="780.80" x2="650.33" y2="777.60" stroke="#1e2423" stroke-width="2.1"/>
<line x1="659.19" y1="402.50" x2="659.19" y2="405.70" stroke="#1e2423" stroke-width="2.1"/>
<line x1="659.19" y1="780.80" x2="659.19" y2="777.60" stroke="#1e2423" stroke-width="2.1"/>
<line x1="666.42" y1="402.50" x2="666.42" y2="405.70" stroke="#1e2423" stroke-width="2.1"/>
<line x1="666.42" y1="780.80" x2="666.42" y2="777.60" stroke="#1e2423" stroke-width="2.1"/>
<line x1="672.54" y1="402.50" x2="672.54" y2="405.70" stroke="#1e2423" stroke-width="2.1"/>
<line x1="672.54" y1="780.80" x2="672.54" y2="777.60" stroke="#1e2423" stroke-width="2.1"/>
<line x1="677.84" y1="402.50" x2="677.84" y2="405.70" stroke="#1e2423" stroke-width="2.1"/>
<line x1="677.84" y1="780.80" x2="677.84" y2="777.60" stroke="#1e2423" stroke-width="2.1"/>
<line x1="682.52" y1="402.50" x2="682.52" y2="405.70" stroke="#1e2423" stroke-width="2.1"/>
<line x1="682.52" y1="780.80" x2="682.52" y2="777.60" stroke="#1e2423" stroke-width="2.1"/>
<line x1="686.70" y1="402.50" x2="686.70" y2="407.90" stroke="#1e2423" stroke-width="2.1"/>
<line x1="686.70" y1="780.80" x2="686.70" y2="775.40" stroke="#1e2423" stroke-width="2.1"/>
<line x1="714.21" y1="402.50" x2="714.21" y2="405.70" stroke="#1e2423" stroke-width="2.1"/>
<line x1="714.21" y1="780.80" x2="714.21" y2="777.60" stroke="#1e2423" stroke-width="2.1"/>
<line x1="566.90" y1="774.17" x2="570.10" y2="774.17" stroke="#1e2423" stroke-width="2.1"/>
<line x1="897.60" y1="774.17" x2="894.40" y2="774.17" stroke="#1e2423" stroke-width="2.1"/>
<line x1="730.31" y1="402.50" x2="730.31" y2="405.70" stroke="#1e2423" stroke-width="2.1"/>
<line x1="730.31" y1="780.80" x2="730.31" y2="777.60" stroke="#1e2423" stroke-width="2.1"/>
<line x1="566.90" y1="755.61" x2="570.10" y2="755.61" stroke="#1e2423" stroke-width="2.1"/>
<line x1="897.60" y1="755.61" x2="894.40" y2="755.61" stroke="#1e2423" stroke-width="2.1"/>
<line x1="741.73" y1="402.50" x2="741.73" y2="405.70" stroke="#1e2423" stroke-width="2.1"/>
<line x1="741.73" y1="780.80" x2="741.73" y2="777.60" stroke="#1e2423" stroke-width="2.1"/>
<line x1="566.90" y1="742.44" x2="570.10" y2="742.44" stroke="#1e2423" stroke-width="2.1"/>
<line x1="897.60" y1="742.44" x2="894.40" y2="742.44" stroke="#1e2423" stroke-width="2.1"/>
<line x1="750.59" y1="402.50" x2="750.59" y2="405.70" stroke="#1e2423" stroke-width="2.1"/>
<line x1="750.59" y1="780.80" x2="750.59" y2="777.60" stroke="#1e2423" stroke-width="2.1"/>
<line x1="566.90" y1="732.23" x2="570.10" y2="732.23" stroke="#1e2423" stroke-width="2.1"/>
<line x1="897.60" y1="732.23" x2="894.40" y2="732.23" stroke="#1e2423" stroke-width="2.1"/>
<line x1="757.82" y1="402.50" x2="757.82" y2="405.70" stroke="#1e2423" stroke-width="2.1"/>
<line x1="757.82" y1="780.80" x2="757.82" y2="777.60" stroke="#1e2423" stroke-width="2.1"/>
<line x1="566.90" y1="723.88" x2="570.10" y2="723.88" stroke="#1e2423" stroke-width="2.1"/>
<line x1="897.60" y1="723.88" x2="894.40" y2="723.88" stroke="#1e2423" stroke-width="2.1"/>
<line x1="763.94" y1="402.50" x2="763.94" y2="405.70" stroke="#1e2423" stroke-width="2.1"/>
<line x1="763.94" y1="780.80" x2="763.94" y2="777.60" stroke="#1e2423" stroke-width="2.1"/>
<line x1="566.90" y1="716.83" x2="570.10" y2="716.83" stroke="#1e2423" stroke-width="2.1"/>
<line x1="897.60" y1="716.83" x2="894.40" y2="716.83" stroke="#1e2423" stroke-width="2.1"/>
<line x1="769.24" y1="402.50" x2="769.24" y2="405.70" stroke="#1e2423" stroke-width="2.1"/>
<line x1="769.24" y1="780.80" x2="769.24" y2="777.60" stroke="#1e2423" stroke-width="2.1"/>
<line x1="566.90" y1="710.71" x2="570.10" y2="710.71" stroke="#1e2423" stroke-width="2.1"/>
<line x1="897.60" y1="710.71" x2="894.40" y2="710.71" stroke="#1e2423" stroke-width="2.1"/>
<line x1="773.92" y1="402.50" x2="773.92" y2="405.70" stroke="#1e2423" stroke-width="2.1"/>
<line x1="773.92" y1="780.80" x2="773.92" y2="777.60" stroke="#1e2423" stroke-width="2.1"/>
<line x1="566.90" y1="705.32" x2="570.10" y2="705.32" stroke="#1e2423" stroke-width="2.1"/>
<line x1="897.60" y1="705.32" x2="894.40" y2="705.32" stroke="#1e2423" stroke-width="2.1"/>
<line x1="778.10" y1="402.50" x2="778.10" y2="407.90" stroke="#1e2423" stroke-width="2.1"/>
<line x1="778.10" y1="780.80" x2="778.10" y2="775.40" stroke="#1e2423" stroke-width="2.1"/>
<line x1="566.90" y1="700.50" x2="572.30" y2="700.50" stroke="#1e2423" stroke-width="2.1"/>
<line x1="897.60" y1="700.50" x2="892.20" y2="700.50" stroke="#1e2423" stroke-width="2.1"/>
<line x1="805.61" y1="402.50" x2="805.61" y2="405.70" stroke="#1e2423" stroke-width="2.1"/>
<line x1="805.61" y1="780.80" x2="805.61" y2="777.60" stroke="#1e2423" stroke-width="2.1"/>
<line x1="566.90" y1="668.77" x2="570.10" y2="668.77" stroke="#1e2423" stroke-width="2.1"/>
<line x1="897.60" y1="668.77" x2="894.40" y2="668.77" stroke="#1e2423" stroke-width="2.1"/>
<line x1="821.71" y1="402.50" x2="821.71" y2="405.70" stroke="#1e2423" stroke-width="2.1"/>
<line x1="821.71" y1="780.80" x2="821.71" y2="777.60" stroke="#1e2423" stroke-width="2.1"/>
<line x1="566.90" y1="650.21" x2="570.10" y2="650.21" stroke="#1e2423" stroke-width="2.1"/>
<line x1="897.60" y1="650.21" x2="894.40" y2="650.21" stroke="#1e2423" stroke-width="2.1"/>
<line x1="833.13" y1="402.50" x2="833.13" y2="405.70" stroke="#1e2423" stroke-width="2.1"/>
<line x1="833.13" y1="780.80" x2="833.13" y2="777.60" stroke="#1e2423" stroke-width="2.1"/>
<line x1="566.90" y1="637.04" x2="570.10" y2="637.04" stroke="#1e2423" stroke-width="2.1"/>
<line x1="897.60" y1="637.04" x2="894.40" y2="637.04" stroke="#1e2423" stroke-width="2.1"/>
<line x1="841.99" y1="402.50" x2="841.99" y2="405.70" stroke="#1e2423" stroke-width="2.1"/>
<line x1="841.99" y1="780.80" x2="841.99" y2="777.60" stroke="#1e2423" stroke-width="2.1"/>
<line x1="566.90" y1="626.83" x2="570.10" y2="626.83" stroke="#1e2423" stroke-width="2.1"/>
<line x1="897.60" y1="626.83" x2="894.40" y2="626.83" stroke="#1e2423" stroke-width="2.1"/>
<line x1="849.22" y1="402.50" x2="849.22" y2="405.70" stroke="#1e2423" stroke-width="2.1"/>
<line x1="849.22" y1="780.80" x2="849.22" y2="777.60" stroke="#1e2423" stroke-width="2.1"/>
<line x1="566.90" y1="618.48" x2="570.10" y2="618.48" stroke="#1e2423" stroke-width="2.1"/>
<line x1="897.60" y1="618.48" x2="894.40" y2="618.48" stroke="#1e2423" stroke-width="2.1"/>
<line x1="855.34" y1="402.50" x2="855.34" y2="405.70" stroke="#1e2423" stroke-width="2.1"/>
<line x1="855.34" y1="780.80" x2="855.34" y2="777.60" stroke="#1e2423" stroke-width="2.1"/>
<line x1="566.90" y1="611.43" x2="570.10" y2="611.43" stroke="#1e2423" stroke-width="2.1"/>
<line x1="897.60" y1="611.43" x2="894.40" y2="611.43" stroke="#1e2423" stroke-width="2.1"/>
<line x1="860.64" y1="402.50" x2="860.64" y2="405.70" stroke="#1e2423" stroke-width="2.1"/>
<line x1="860.64" y1="780.80" x2="860.64" y2="777.60" stroke="#1e2423" stroke-width="2.1"/>
<line x1="566.90" y1="605.31" x2="570.10" y2="605.31" stroke="#1e2423" stroke-width="2.1"/>
<line x1="897.60" y1="605.31" x2="894.40" y2="605.31" stroke="#1e2423" stroke-width="2.1"/>
<line x1="865.32" y1="402.50" x2="865.32" y2="405.70" stroke="#1e2423" stroke-width="2.1"/>
<line x1="865.32" y1="780.80" x2="865.32" y2="777.60" stroke="#1e2423" stroke-width="2.1"/>
<line x1="566.90" y1="599.92" x2="570.10" y2="599.92" stroke="#1e2423" stroke-width="2.1"/>
<line x1="897.60" y1="599.92" x2="894.40" y2="599.92" stroke="#1e2423" stroke-width="2.1"/>
<line x1="869.50" y1="402.50" x2="869.50" y2="407.90" stroke="#1e2423" stroke-width="2.1"/>
<line x1="869.50" y1="780.80" x2="869.50" y2="775.40" stroke="#1e2423" stroke-width="2.1"/>
<line x1="566.90" y1="595.10" x2="572.30" y2="595.10" stroke="#1e2423" stroke-width="2.1"/>
<line x1="897.60" y1="595.10" x2="892.20" y2="595.10" stroke="#1e2423" stroke-width="2.1"/>
<line x1="566.90" y1="563.37" x2="570.10" y2="563.37" stroke="#1e2423" stroke-width="2.1"/>
<line x1="897.60" y1="563.37" x2="894.40" y2="563.37" stroke="#1e2423" stroke-width="2.1"/>
<line x1="566.90" y1="544.81" x2="570.10" y2="544.81" stroke="#1e2423" stroke-width="2.1"/>
<line x1="897.60" y1="544.81" x2="894.40" y2="544.81" stroke="#1e2423" stroke-width="2.1"/>
<line x1="566.90" y1="531.64" x2="570.10" y2="531.64" stroke="#1e2423" stroke-width="2.1"/>
<line x1="897.60" y1="531.64" x2="894.40" y2="531.64" stroke="#1e2423" stroke-width="2.1"/>
<line x1="566.90" y1="521.43" x2="570.10" y2="521.43" stroke="#1e2423" stroke-width="2.1"/>
<line x1="897.60" y1="521.43" x2="894.40" y2="521.43" stroke="#1e2423" stroke-width="2.1"/>
<line x1="566.90" y1="513.08" x2="570.10" y2="513.08" stroke="#1e2423" stroke-width="2.1"/>
<line x1="897.60" y1="513.08" x2="894.40" y2="513.08" stroke="#1e2423" stroke-width="2.1"/>
<line x1="566.90" y1="506.03" x2="570.10" y2="506.03" stroke="#1e2423" stroke-width="2.1"/>
<line x1="897.60" y1="506.03" x2="894.40" y2="506.03" stroke="#1e2423" stroke-width="2.1"/>
<line x1="566.90" y1="499.91" x2="570.10" y2="499.91" stroke="#1e2423" stroke-width="2.1"/>
<line x1="897.60" y1="499.91" x2="894.40" y2="499.91" stroke="#1e2423" stroke-width="2.1"/>
<line x1="566.90" y1="494.52" x2="570.10" y2="494.52" stroke="#1e2423" stroke-width="2.1"/>
<line x1="897.60" y1="494.52" x2="894.40" y2="494.52" stroke="#1e2423" stroke-width="2.1"/>
<line x1="566.90" y1="489.70" x2="572.30" y2="489.70" stroke="#1e2423" stroke-width="2.1"/>
<line x1="897.60" y1="489.70" x2="892.20" y2="489.70" stroke="#1e2423" stroke-width="2.1"/>
<line x1="566.90" y1="457.97" x2="570.10" y2="457.97" stroke="#1e2423" stroke-width="2.1"/>
<line x1="897.60" y1="457.97" x2="894.40" y2="457.97" stroke="#1e2423" stroke-width="2.1"/>
<line x1="566.90" y1="439.41" x2="570.10" y2="439.41" stroke="#1e2423" stroke-width="2.1"/>
<line x1="897.60" y1="439.41" x2="894.40" y2="439.41" stroke="#1e2423" stroke-width="2.1"/>
<line x1="566.90" y1="426.24" x2="570.10" y2="426.24" stroke="#1e2423" stroke-width="2.1"/>
<line x1="897.60" y1="426.24" x2="894.40" y2="426.24" stroke="#1e2423" stroke-width="2.1"/>
<line x1="566.90" y1="416.03" x2="570.10" y2="416.03" stroke="#1e2423" stroke-width="2.1"/>
<line x1="897.60" y1="416.03" x2="894.40" y2="416.03" stroke="#1e2423" stroke-width="2.1"/>
<line x1="566.90" y1="407.68" x2="570.10" y2="407.68" stroke="#1e2423" stroke-width="2.1"/>
<line x1="897.60" y1="407.68" x2="894.40" y2="407.68" stroke="#1e2423" stroke-width="2.1"/>
<line x1="566.9" y1="780.8" x2="897.6" y2="402.5" stroke="#1768ad" stroke-width="2.7" stroke-linecap="butt"/>
<text transform="translate(515.25 497.95) scale(0.9200 1)" font-size="35.4" fill="#231815">10<tspan font-size="21.0" dx="1.6" dy="-12.2">2</tspan></text>
<text transform="translate(515.25 604.55) scale(0.9200 1)" font-size="35.4" fill="#231815">10<tspan font-size="21.0" dx="1.6" dy="-12.2">1</tspan></text>
<text transform="translate(515.25 711.45) scale(0.9200 1)" font-size="35.4" fill="#231815">10<tspan font-size="21.0" dx="1.6" dy="-12.2">0</tspan></text>
<text transform="translate(567.25 819.20) scale(0.9200 1)" font-size="35.4" fill="#231815">10<tspan font-size="21.0" dx="1.6" dy="-12.2">-2</tspan></text>
<text transform="translate(660.00 819.20) scale(0.9200 1)" font-size="35.4" fill="#231815">10<tspan font-size="21.0" dx="1.6" dy="-12.2">-1</tspan></text>
<text transform="translate(754.45 819.20) scale(0.9200 1)" font-size="35.4" fill="#231815">10<tspan font-size="21.0" dx="1.6" dy="-12.2">0</tspan></text>
<text transform="translate(846.40 819.20) scale(0.9200 1)" font-size="35.4" fill="#231815">10<tspan font-size="21.0" dx="1.6" dy="-12.2">1</tspan></text>
<text transform="translate(469.45 414.80) scale(0.9600 1)" font-size="48" fill="#231815" font-weight="bold">c</text>
<text transform="translate(502.40 715.85) rotate(-90) scale(0.9340 1)" font-size="44.5" fill="#000000" font-weight="bold">Intensity a.u.</text>
<text transform="translate(539.60 855.95) scale(1.0150 1)" font-size="41" fill="#231815" font-weight="bold">Concentration (mM)</text>
<text transform="translate(602.30 472.20) scale(0.9820 1)" font-size="35.4" fill="#1768ad">y = 33.96x</text>
<text transform="translate(610.30 519.00) scale(0.9780 1)" font-size="35.4" fill="#1768ad">R<tspan font-size="21" dy="-11.5">2</tspan><tspan dy="11.5"> = 1.00</tspan></text>
<rect x="1047.4" y="402.4" width="331.0" height="125.89999999999998" fill="#fdfdfd"/>
<line x1="1185.40" y1="402.40" x2="1185.40" y2="780.80" stroke="#bcc0c2" stroke-width="1.2" stroke-dasharray="4.2 2.6"/>
<rect x="1047.40" y="402.40" width="331.00" height="125.90" fill="none" stroke="#1e2423" stroke-width="2.8"/>
<rect x="1047.40" y="528.30" width="331.00" height="126.50" fill="none" stroke="#1e2423" stroke-width="2.8"/>
<rect x="1047.40" y="654.80" width="331.00" height="126.00" fill="none" stroke="#1e2423" stroke-width="2.8"/>
<line x1="1213.20" y1="402.40" x2="1213.20" y2="405.80" stroke="#1e2423" stroke-width="2.5"/>
<line x1="1213.20" y1="525.50" x2="1213.20" y2="531.70" stroke="#1e2423" stroke-width="2.5"/>
<line x1="1213.20" y1="652.00" x2="1213.20" y2="658.20" stroke="#1e2423" stroke-width="2.5"/>
<line x1="1213.20" y1="780.80" x2="1213.20" y2="778.00" stroke="#1e2423" stroke-width="2.5"/>
<line x1="1047.40" y1="428.10" x2="1051.00" y2="428.10" stroke="#1e2423" stroke-width="2.5"/>
<line x1="1378.40" y1="428.10" x2="1374.80" y2="428.10" stroke="#1e2423" stroke-width="2.5"/>
<line x1="1047.40" y1="477.50" x2="1051.00" y2="477.50" stroke="#1e2423" stroke-width="2.5"/>
<line x1="1378.40" y1="477.50" x2="1374.80" y2="477.50" stroke="#1e2423" stroke-width="2.5"/>
<line x1="1047.40" y1="558.10" x2="1051.00" y2="558.10" stroke="#1e2423" stroke-width="2.5"/>
<line x1="1378.40" y1="558.10" x2="1374.80" y2="558.10" stroke="#1e2423" stroke-width="2.5"/>
<line x1="1047.40" y1="606.70" x2="1051.00" y2="606.70" stroke="#1e2423" stroke-width="2.5"/>
<line x1="1378.40" y1="606.70" x2="1374.80" y2="606.70" stroke="#1e2423" stroke-width="2.5"/>
<line x1="1047.40" y1="670.10" x2="1051.00" y2="670.10" stroke="#1e2423" stroke-width="2.5"/>
<line x1="1378.40" y1="670.10" x2="1374.80" y2="670.10" stroke="#1e2423" stroke-width="2.5"/>
<line x1="1047.40" y1="726.10" x2="1051.00" y2="726.10" stroke="#1e2423" stroke-width="2.5"/>
<line x1="1378.40" y1="726.10" x2="1374.80" y2="726.10" stroke="#1e2423" stroke-width="2.5"/>
<polyline points="1047.7,414.4 1049.9,420.1 1052.7,426.6 1056.3,431.6 1059.8,435.8 1063.4,442.3 1067.7,448.7 1072.0,455.1 1076.3,460.8 1080.6,465.8 1084.1,470.1 1087.0,472.2 1090.5,472.5 1094.8,473.2 1097.7,475.8 1100.5,478.7 1104.1,480.8 1107.0,483.7 1109.8,486.8 1112.7,489.1 1116.2,489.1 1119.8,488.4 1122.0,488.4 1124.8,489.5 1128.4,490.7 1132.0,490.8 1135.5,490.1 1139.1,488.7 1141.9,487.0 1143.7,486.5 1146.2,488.2 1149.8,490.4 1153.4,492.2 1156.2,493.0 1159.1,491.5 1162.6,489.4 1166.2,487.2 1169.1,485.4 1171.9,485.1 1174.1,485.4 1176.9,483.7 1179.8,480.1 1182.6,476.5 1184.8,475.8 1186.9,475.4 1189.1,478.0 1191.2,480.8 1194.8,482.0 1198.3,483.7 1201.2,484.7 1204.8,484.8 1209.1,484.8 1212.6,486.5 1216.2,488.4 1219.0,488.7 1222.6,488.2 1226.2,489.1 1229.8,490.1 1233.3,491.8 1236.9,494.4 1239.8,496.1 1243.3,496.2 1246.9,496.9 1250.5,497.9 1254.7,499.4 1258.3,500.4 1261.9,501.8 1265.5,505.1 1268.3,505.8 1271.9,506.1 1275.4,505.8 1279.0,506.9 1282.6,509.8 1286.2,511.8 1290.4,512.9 1294.0,513.2 1296.2,513.4 1299.0,515.1 1299.2,515.8 1301.3,516.5 1304.9,515.5 1309.2,513.7 1312.8,515.1 1317.7,516.8 1322.0,515.8 1326.3,515.4 1330.6,515.5 1335.6,514.1 1340.6,514.1 1346.3,514.1 1352.0,513.9 1356.3,515.4 1360.6,516.5 1365.6,517.2 1369.2,515.4 1372.0,515.1 1375.6,515.8 1377.4,516.2" fill="none" stroke="#1b9ad6" stroke-width="2.7" stroke-linejoin="round" stroke-linecap="round"/>
<polyline points="1047.7,557.8 1050.6,562.8 1053.4,569.3 1056.3,574.3 1059.8,579.3 1063.4,583.5 1067.0,587.1 1070.6,591.4 1073.4,595.7 1077.0,602.1 1079.8,605.7 1082.7,608.2 1086.3,610.7 1089.8,613.5 1092.7,615.0 1095.5,615.7 1098.4,618.5 1101.3,621.7 1104.1,624.2 1107.0,625.9 1109.8,626.4 1112.7,626.1 1114.8,627.4 1117.7,628.9 1121.2,628.9 1124.8,628.8 1127.7,628.2 1130.5,627.7 1134.8,627.9 1139.1,628.4 1143.4,628.5 1147.7,627.8 1151.9,626.4 1156.2,625.7 1160.5,624.2 1164.8,622.8 1168.4,620.2 1171.2,617.4 1173.4,614.2 1175.1,609.2 1176.5,601.4 1177.9,591.4 1179.4,580.0 1180.8,566.4 1182.2,556.7 1184.1,552.4 1185.9,550.6 1187.2,549.6 1188.4,558.0 1189.8,568.6 1191.5,580.0 1193.3,591.4 1195.5,602.8 1197.6,610.0 1200.2,615.7 1202.6,618.8 1205.5,621.1 1209.1,622.1 1212.6,622.1 1215.5,624.2 1219.0,627.1 1222.6,628.8 1226.2,629.2 1230.5,629.2 1234.0,629.9 1237.6,631.1 1241.9,632.1 1246.2,632.8 1249.7,632.5 1251.9,632.2 1254.7,633.9 1258.3,635.9 1261.9,636.8 1265.5,636.4 1269.0,634.9 1272.6,633.1 1275.4,632.2 1278.3,632.8 1281.9,634.7 1285.4,635.7 1287.6,635.9 1289.7,638.5 1292.6,640.7 1296.2,641.8 1300.6,641.8 1304.9,641.1 1309.2,639.7 1313.2,637.8 1315.6,639.7 1319.2,642.1 1322.7,644.2 1326.3,643.5 1330.6,642.8 1333.5,643.5 1336.3,643.8 1339.9,642.1 1343.4,642.4 1349.2,642.8 1354.9,643.2 1357.7,643.5 1363.4,642.8 1367.7,643.2 1372.0,643.1 1375.6,642.1 1377.4,641.8" fill="none" stroke="#d9343b" stroke-width="2.7" stroke-linejoin="round" stroke-linecap="round"/>
<polyline points="1047.7,763.7 1048.2,763.7 1048.7,763.7 1049.2,763.8 1049.7,763.9 1050.2,763.9 1050.7,764.0 1051.2,764.1 1051.7,764.2 1052.2,764.3 1052.7,764.4 1053.2,764.5 1053.7,764.6 1054.2,764.7 1054.7,764.9 1055.2,765.0 1055.7,765.2 1056.2,765.4 1056.7,765.5 1057.2,765.7 1057.7,765.8 1058.2,765.9 1058.7,766.1 1059.2,766.2 1059.7,766.4 1060.2,766.5 1060.7,766.7 1061.2,766.8 1061.7,766.9 1062.2,767.0 1062.7,767.1 1063.2,767.2 1063.7,767.3 1064.2,767.3 1064.7,767.3 1065.2,767.4 1065.7,767.4 1066.2,767.4 1066.7,767.4 1067.2,767.5 1067.7,767.5 1068.2,767.5 1068.7,767.5 1069.2,767.6 1069.7,767.6 1070.2,767.6 1070.7,767.7 1071.2,767.7 1071.7,767.8 1072.2,767.9 1072.7,768.0 1073.2,768.0 1073.7,768.1 1074.2,768.2 1074.7,768.3 1075.2,768.4 1075.7,768.5 1076.2,768.6 1076.7,768.7 1077.2,768.8 1077.7,769.0 1078.2,769.1 1078.7,769.2 1079.2,769.3 1079.7,769.4 1080.2,769.5 1080.7,769.6 1081.2,769.7 1081.7,769.8 1082.2,769.8 1082.7,769.9 1083.2,769.9 1083.7,770.0 1084.2,770.0 1084.7,770.1 1085.2,770.1 1085.7,770.1 1086.2,770.2 1086.7,770.2 1087.2,770.2 1087.7,770.3 1088.2,770.3 1088.7,770.3 1089.2,770.4 1089.7,770.4 1090.2,770.4 1090.7,770.5 1091.2,770.5 1091.7,770.5 1092.2,770.6 1092.7,770.6 1093.2,770.6 1093.7,770.6 1094.2,770.7 1094.7,770.7 1095.2,770.7 1095.7,770.8 1096.2,770.8 1096.7,770.8 1097.2,770.9 1097.7,770.9 1098.2,771.0 1098.7,771.0 1099.2,771.1 1099.7,771.1 1100.2,771.2 1100.7,771.3 1101.2,771.3 1101.7,771.4 1102.2,771.4 1102.7,771.5 1103.2,771.5 1103.7,771.5 1104.2,771.6 1104.7,771.6 1105.2,771.7 1105.7,771.7 1106.2,771.7 1106.7,771.8 1107.2,771.8 1107.7,771.8 1108.2,771.9 1108.7,771.9 1109.2,771.9 1109.7,771.9 1110.2,771.9 1110.7,771.9 1111.2,771.9 1111.7,771.9 1112.2,771.9 1112.7,771.9 1113.2,771.9 1113.7,771.9 1114.2,771.9 1114.7,771.9 1115.2,771.9 1115.7,771.9 1116.2,771.8 1116.7,771.8 1117.2,771.8 1117.7,771.8 1118.2,771.8 1118.7,771.8 1119.2,771.7 1119.7,771.7 1120.2,771.7 1120.7,771.7 1121.2,771.7 1121.7,771.6 1122.2,771.6 1122.7,771.6 1123.2,771.6 1123.7,771.6 1124.2,771.5 1124.7,771.5 1125.2,771.5 1125.7,771.5 1126.2,771.4 1126.7,771.4 1127.2,771.4 1127.7,771.3 1128.2,771.3 1128.7,771.3 1129.2,771.3 1129.7,771.2 1130.2,771.2 1130.7,771.2 1131.2,771.2 1131.7,771.2 1132.2,771.3 1132.7,771.3 1133.2,771.3 1133.7,771.4 1134.2,771.4 1134.7,771.4 1135.2,771.5 1135.7,771.5 1136.2,771.5 1136.7,771.5 1137.2,771.6 1137.7,771.6 1138.2,771.6 1138.7,771.6 1139.2,771.7 1139.7,771.7 1140.2,771.7 1140.7,771.7 1141.2,771.8 1141.7,771.8 1142.2,771.8 1142.7,771.8 1143.2,771.9 1143.7,771.9 1144.2,771.9 1144.7,772.0 1145.2,772.0 1145.7,772.0 1146.2,772.1 1146.7,772.1 1147.2,772.1 1147.7,772.1 1148.2,772.1 1148.7,772.1 1149.2,772.1 1149.7,772.1 1150.2,772.1 1150.7,772.1 1151.2,772.1 1151.7,772.1 1152.2,772.1 1152.7,772.1 1153.2,772.0 1153.7,772.0 1154.2,771.9 1154.7,771.8 1155.2,771.7 1155.7,771.6 1156.2,771.5 1156.7,771.4 1157.2,771.3 1157.7,771.1 1158.2,771.0 1158.7,770.8 1159.2,770.6 1159.7,770.4 1160.2,770.2 1160.7,770.0 1161.2,769.8 1161.7,769.6 1162.2,769.4 1162.7,769.1 1163.2,768.9 1163.7,768.6 1164.2,768.3 1164.7,768.0 1165.2,767.7 1165.7,767.3 1166.2,766.9 1166.7,766.5 1167.2,766.0 1167.7,765.5 1168.2,765.0 1168.7,764.4 1169.2,763.7 1169.7,762.9 1170.2,762.1 1170.7,761.1 1171.2,760.1 1171.7,758.9 1172.2,757.6 1172.7,756.0 1173.2,754.2 1173.7,752.1 1174.2,749.3 1174.7,746.1 1175.2,742.7 1175.7,738.9 1176.2,734.7 1176.7,730.4 1177.2,726.0 1177.7,721.4 1178.2,716.7 1178.7,711.6 1179.2,706.6 1179.7,701.4 1180.2,696.1 1180.7,691.4 1181.2,687.6 1181.7,684.3 1184.1,678.0 1185.9,676.7 1187.2,676.0 1188.4,683.8 1189.8,695.1 1190.3,699.4 1190.8,703.6 1191.3,707.7 1191.8,711.7 1192.3,715.6 1192.8,719.4 1193.3,723.2 1193.8,727.0 1194.3,731.0 1194.8,734.7 1195.3,737.9 1195.8,740.8 1196.3,743.4 1196.8,745.9 1197.3,748.2 1197.8,750.3 1198.3,752.4 1198.8,754.2 1199.3,755.8 1199.8,757.2 1200.3,758.6 1200.8,759.8 1201.3,760.9 1201.8,761.8 1202.3,762.6 1202.8,763.4 1203.3,764.1 1203.8,764.7 1204.3,765.3 1204.8,765.8 1205.3,766.3 1205.8,766.7 1206.3,767.1 1206.8,767.5 1207.3,767.9 1207.8,768.2 1208.3,768.5 1208.8,768.8 1209.3,769.0 1209.8,769.3 1210.3,769.5 1210.8,769.7 1211.3,769.9 1211.8,770.1 1212.3,770.2 1212.8,770.4 1213.3,770.5 1213.8,770.6 1214.3,770.7 1214.8,770.8 1215.3,770.9 1215.8,771.0 1216.3,771.1 1216.8,771.1 1217.3,771.2 1217.8,771.3 1218.3,771.4 1218.8,771.5 1219.3,771.6 1219.8,771.6 1220.3,771.7 1220.8,771.8 1221.3,771.9 1221.8,772.0 1222.3,772.1 1222.8,772.2 1223.3,772.3 1223.8,772.4 1224.3,772.4 1224.8,772.5 1225.3,772.6 1225.8,772.6 1226.3,772.7 1226.8,772.7 1227.3,772.8 1227.8,772.8 1228.3,772.9 1228.8,772.9 1229.3,773.0 1229.8,773.0 1230.3,773.1 1230.8,773.1 1231.3,773.2 1231.8,773.2 1232.3,773.2 1232.8,773.3 1233.3,773.3 1233.8,773.4 1234.3,773.4 1234.8,773.4 1235.3,773.5 1235.8,773.5 1236.3,773.6 1236.8,773.6 1237.3,773.6 1237.8,773.7 1238.3,773.7 1238.8,773.7 1239.3,773.8 1239.8,773.8 1240.3,773.8 1240.8,773.9 1241.3,773.9 1241.8,773.9 1242.3,774.0 1242.8,774.0 1243.3,774.0 1243.8,774.0 1244.3,774.1 1244.8,774.1 1245.3,774.1 1245.8,774.1 1246.3,774.2 1246.8,774.2 1247.3,774.2 1247.8,774.2 1248.3,774.3 1248.8,774.3 1249.3,774.3 1249.8,774.3 1250.3,774.3 1250.8,774.4 1251.3,774.4 1251.8,774.4 1252.3,774.4 1252.8,774.4 1253.3,774.3 1253.8,774.3 1254.3,774.3 1254.8,774.3 1255.3,774.3 1255.8,774.2 1256.3,774.2 1256.8,774.2 1257.3,774.1 1257.8,774.1 1258.3,774.0 1258.8,774.0 1259.3,773.9 1259.8,773.8 1260.3,773.7 1260.8,773.6 1261.3,773.4 1261.8,773.3 1262.3,773.1 1262.8,772.8 1263.3,772.6 1263.8,772.4 1264.3,772.1 1264.8,771.8 1265.3,771.4 1265.8,771.0 1266.3,770.7 1266.8,770.3 1267.3,769.9 1267.8,769.5 1268.3,769.2 1268.8,768.8 1269.3,768.5 1269.8,768.1 1270.3,767.8 1270.8,767.5 1271.3,767.2 1271.8,766.9 1272.3,766.6 1272.8,766.3 1273.3,766.0 1273.8,765.8 1274.3,765.6 1274.8,765.4 1275.3,765.2 1275.8,765.0 1276.3,764.8 1276.8,764.6 1277.3,764.5 1277.8,764.4 1278.3,764.4 1278.8,764.4 1279.3,764.4 1279.8,764.4 1280.3,764.4 1280.8,764.4 1281.3,764.4 1281.8,764.4 1282.3,764.4 1282.8,764.5 1283.3,764.6 1283.8,764.7 1284.3,764.9 1284.8,765.1 1285.3,765.3 1285.8,765.5 1286.3,765.8 1286.8,766.1 1287.3,766.4 1287.8,766.8 1288.3,767.1 1288.8,767.5 1289.3,767.8 1289.8,768.2 1290.3,768.5 1290.8,768.8 1291.3,769.2 1291.8,769.5 1292.3,769.9 1292.8,770.2 1293.3,770.6 1293.8,770.9 1294.3,771.3 1294.8,771.6 1295.3,772.0 1295.8,772.3 1296.3,772.6 1296.8,772.9 1297.3,773.1 1297.8,773.4 1298.3,773.7 1298.8,773.9 1299.3,774.2 1299.8,774.4 1300.3,774.7 1300.8,775.0 1301.3,775.3 1301.8,775.7 1302.3,776.0 1302.8,776.2 1303.3,776.5 1303.8,776.6 1304.3,776.7 1304.8,776.8 1305.3,776.9 1305.8,777.0 1306.3,777.0 1306.8,777.1 1307.3,777.1 1307.8,777.2 1308.3,777.3 1308.8,777.3 1309.3,777.4 1309.8,777.4 1310.3,777.5 1310.8,777.5 1311.3,777.6 1311.8,777.6 1312.3,777.7 1312.8,777.7 1313.3,777.8 1313.8,777.8 1314.3,777.9 1314.8,777.9 1315.3,778.0 1315.8,778.0 1316.3,778.1 1316.8,778.1 1317.3,778.2 1317.8,778.2 1318.3,778.3 1318.8,778.3 1319.3,778.4 1319.8,778.5 1320.3,778.5 1320.8,778.5 1321.3,778.6 1321.8,778.6 1322.3,778.7 1322.8,778.7 1323.3,778.7 1323.8,778.8 1324.3,778.8 1324.8,778.8 1325.3,778.9 1325.8,778.9 1326.3,778.9 1326.8,779.0 1327.3,779.0 1327.8,779.0 1328.3,779.0 1328.8,779.1 1329.3,779.1 1329.8,779.1 1330.3,779.1 1330.8,779.1 1331.3,779.1 1331.8,779.2 1332.3,779.2 1332.8,779.2 1333.3,779.2 1333.8,779.2 1334.3,779.2 1334.8,779.2 1335.3,779.2 1335.8,779.2 1336.3,779.3 1336.8,779.3 1337.3,779.3 1337.8,779.3 1338.3,779.3 1338.8,779.3 1339.3,779.3 1339.8,779.3 1340.3,779.3 1340.8,779.3 1341.3,779.3 1341.8,779.3 1342.3,779.3 1342.8,779.4 1343.3,779.4 1343.8,779.4 1344.3,779.4 1344.8,779.4 1345.3,779.4 1345.8,779.4 1346.3,779.4 1346.8,779.4 1347.3,779.4 1347.8,779.4 1348.3,779.4 1348.8,779.4 1349.3,779.4 1349.8,779.4 1350.3,779.4 1350.8,779.4 1351.3,779.4 1351.8,779.4 1352.3,779.5 1352.8,779.5 1353.3,779.5 1353.8,779.5 1354.3,779.5 1354.8,779.5 1355.3,779.5 1355.8,779.5 1356.3,779.5 1356.8,779.5 1357.3,779.5 1357.8,779.5 1358.3,779.5 1358.8,779.5 1359.3,779.5 1359.8,779.5 1360.3,779.5 1360.8,779.5 1361.3,779.6 1361.8,779.6 1362.3,779.6 1362.8,779.6 1363.3,779.6 1363.8,779.6 1364.3,779.6 1364.8,779.6 1365.3,779.6 1365.8,779.6 1366.3,779.6 1366.8,779.6 1367.3,779.6 1367.8,779.6 1368.3,779.6 1368.8,779.7 1369.3,779.7 1369.8,779.7 1370.3,779.7 1370.8,779.7 1371.3,779.7 1371.8,779.7 1372.3,779.7 1372.8,779.7 1373.3,779.7 1373.8,779.7 1374.3,779.7 1374.8,779.7 1375.3,779.8 1375.8,779.8 1376.3,779.8 1376.8,779.8 1377.3,779.8" fill="none" stroke="#e28d35" stroke-width="2.7" stroke-linejoin="round" stroke-linecap="round"/>
<text transform="translate(1025.20 439.75) scale(0.9200 1)" font-size="35.4" fill="#2b3030">3</text>
<text transform="translate(998.10 488.80) scale(0.9200 1)" font-size="35.4" fill="#2b3030">1.5</text>
<text transform="translate(1025.20 569.75) scale(0.9200 1)" font-size="35.4" fill="#2b3030">3</text>
<text transform="translate(998.10 618.60) scale(0.9200 1)" font-size="35.4" fill="#2b3030">1.5</text>
<text transform="translate(1005.95 681.95) scale(0.9200 1)" font-size="35.4" fill="#2b3030">20</text>
<text transform="translate(1006.25 737.05) scale(0.9200 1)" font-size="35.4" fill="#2b3030">10</text>
<text transform="translate(1025.10 785.55) scale(0.9200 1)" font-size="35.4" fill="#2b3030">0</text>
<text transform="translate(1019.40 819.20) scale(0.9200 1)" font-size="35.4" fill="#2b3030">2800</text>
<text transform="translate(1176.30 819.20) scale(0.9200 1)" font-size="35.4" fill="#2b3030">2950</text>
<text transform="translate(1327.80 819.20) scale(0.9200 1)" font-size="35.4" fill="#2b3030">3100</text>
<text transform="translate(939.85 414.80) scale(0.9600 1)" font-size="48" fill="#231815" font-weight="bold">e</text>
<text transform="translate(983.70 715.85) rotate(-90) scale(0.9340 1)" font-size="44.5" fill="#000000" font-weight="bold">Intensity a.u.</text>
<text transform="translate(1037.70 856.85) scale(1.0150 1)" font-size="41" fill="#000000" font-weight="bold">Raman shift (cm<tspan font-size="24" dy="-13.6">-1</tspan><tspan dy="13.6">)</tspan></text>
<text transform="translate(1270.50 475.55) scale(0.9200 1)" font-size="35.4" fill="#1b9ad6">1mM</text>
<text transform="translate(1261.00 583.65) scale(0.9200 1)" font-size="35.4" fill="#d9343b">10mM</text>
<text transform="translate(1252.50 728.45) scale(0.9200 1)" font-size="35.4" fill="#e28d35">100mM</text>
<text transform="translate(1263.95 609.70)" font-size="24.8" fill="#231815">SNR = 52</text>
<ellipse cx="1654.90" cy="612.30" rx="3.70" ry="3.30" fill="#231815"/>
<ellipse cx="1724.60" cy="540.80" rx="3.70" ry="3.30" fill="#231815"/>
<ellipse cx="1795.20" cy="458.30" rx="3.70" ry="3.30" fill="#231815"/>
<line x1="1584.90" y1="686.50" x2="1584.90" y2="704.10" stroke="#231815" stroke-width="2.0"/>
<line x1="1580.70" y1="686.50" x2="1589.10" y2="686.50" stroke="#231815" stroke-width="2.0"/>
<line x1="1580.70" y1="704.10" x2="1589.10" y2="704.10" stroke="#231815" stroke-width="2.0"/>
<ellipse cx="1584.90" cy="693.70" rx="3.30" ry="2.90" fill="#231815"/>
<rect x="1514.80" y="402.50" width="330.00" height="378.30" fill="none" stroke="#1e2423" stroke-width="2.8"/>
<line x1="1535.46" y1="402.50" x2="1535.46" y2="405.70" stroke="#1e2423" stroke-width="2.1"/>
<line x1="1535.46" y1="780.80" x2="1535.46" y2="777.60" stroke="#1e2423" stroke-width="2.1"/>
<line x1="1547.84" y1="402.50" x2="1547.84" y2="405.70" stroke="#1e2423" stroke-width="2.1"/>
<line x1="1547.84" y1="780.80" x2="1547.84" y2="777.60" stroke="#1e2423" stroke-width="2.1"/>
<line x1="1556.62" y1="402.50" x2="1556.62" y2="405.70" stroke="#1e2423" stroke-width="2.1"/>
<line x1="1556.62" y1="780.80" x2="1556.62" y2="777.60" stroke="#1e2423" stroke-width="2.1"/>
<line x1="1563.44" y1="402.50" x2="1563.44" y2="405.70" stroke="#1e2423" stroke-width="2.1"/>
<line x1="1563.44" y1="780.80" x2="1563.44" y2="777.60" stroke="#1e2423" stroke-width="2.1"/>
<line x1="1569.00" y1="402.50" x2="1569.00" y2="405.70" stroke="#1e2423" stroke-width="2.1"/>
<line x1="1569.00" y1="780.80" x2="1569.00" y2="777.60" stroke="#1e2423" stroke-width="2.1"/>
<line x1="1573.71" y1="402.50" x2="1573.71" y2="405.70" stroke="#1e2423" stroke-width="2.1"/>
<line x1="1573.71" y1="780.80" x2="1573.71" y2="777.60" stroke="#1e2423" stroke-width="2.1"/>
<line x1="1577.79" y1="402.50" x2="1577.79" y2="405.70" stroke="#1e2423" stroke-width="2.1"/>
<line x1="1577.79" y1="780.80" x2="1577.79" y2="777.60" stroke="#1e2423" stroke-width="2.1"/>
<line x1="1581.38" y1="402.50" x2="1581.38" y2="405.70" stroke="#1e2423" stroke-width="2.1"/>
<line x1="1581.38" y1="780.80" x2="1581.38" y2="777.60" stroke="#1e2423" stroke-width="2.1"/>
<line x1="1584.60" y1="402.50" x2="1584.60" y2="407.90" stroke="#1e2423" stroke-width="2.1"/>
<line x1="1584.60" y1="780.80" x2="1584.60" y2="775.40" stroke="#1e2423" stroke-width="2.1"/>
<line x1="1605.76" y1="402.50" x2="1605.76" y2="405.70" stroke="#1e2423" stroke-width="2.1"/>
<line x1="1605.76" y1="780.80" x2="1605.76" y2="777.60" stroke="#1e2423" stroke-width="2.1"/>
<line x1="1618.14" y1="402.50" x2="1618.14" y2="405.70" stroke="#1e2423" stroke-width="2.1"/>
<line x1="1618.14" y1="780.80" x2="1618.14" y2="777.60" stroke="#1e2423" stroke-width="2.1"/>
<line x1="1626.92" y1="402.50" x2="1626.92" y2="405.70" stroke="#1e2423" stroke-width="2.1"/>
<line x1="1626.92" y1="780.80" x2="1626.92" y2="777.60" stroke="#1e2423" stroke-width="2.1"/>
<line x1="1633.74" y1="402.50" x2="1633.74" y2="405.70" stroke="#1e2423" stroke-width="2.1"/>
<line x1="1633.74" y1="780.80" x2="1633.74" y2="777.60" stroke="#1e2423" stroke-width="2.1"/>
<line x1="1639.30" y1="402.50" x2="1639.30" y2="405.70" stroke="#1e2423" stroke-width="2.1"/>
<line x1="1639.30" y1="780.80" x2="1639.30" y2="777.60" stroke="#1e2423" stroke-width="2.1"/>
<line x1="1644.01" y1="402.50" x2="1644.01" y2="405.70" stroke="#1e2423" stroke-width="2.1"/>
<line x1="1644.01" y1="780.80" x2="1644.01" y2="777.60" stroke="#1e2423" stroke-width="2.1"/>
<line x1="1648.09" y1="402.50" x2="1648.09" y2="405.70" stroke="#1e2423" stroke-width="2.1"/>
<line x1="1648.09" y1="780.80" x2="1648.09" y2="777.60" stroke="#1e2423" stroke-width="2.1"/>
<line x1="1651.68" y1="402.50" x2="1651.68" y2="405.70" stroke="#1e2423" stroke-width="2.1"/>
<line x1="1651.68" y1="780.80" x2="1651.68" y2="777.60" stroke="#1e2423" stroke-width="2.1"/>
<line x1="1654.90" y1="402.50" x2="1654.90" y2="407.90" stroke="#1e2423" stroke-width="2.1"/>
<line x1="1654.90" y1="780.80" x2="1654.90" y2="775.40" stroke="#1e2423" stroke-width="2.1"/>
<line x1="1676.06" y1="402.50" x2="1676.06" y2="405.70" stroke="#1e2423" stroke-width="2.1"/>
<line x1="1676.06" y1="780.80" x2="1676.06" y2="777.60" stroke="#1e2423" stroke-width="2.1"/>
<line x1="1688.44" y1="402.50" x2="1688.44" y2="405.70" stroke="#1e2423" stroke-width="2.1"/>
<line x1="1688.44" y1="780.80" x2="1688.44" y2="777.60" stroke="#1e2423" stroke-width="2.1"/>
<line x1="1514.80" y1="768.35" x2="1518.00" y2="768.35" stroke="#1e2423" stroke-width="2.1"/>
<line x1="1844.80" y1="768.35" x2="1841.60" y2="768.35" stroke="#1e2423" stroke-width="2.1"/>
<line x1="1697.22" y1="402.50" x2="1697.22" y2="405.70" stroke="#1e2423" stroke-width="2.1"/>
<line x1="1697.22" y1="780.80" x2="1697.22" y2="777.60" stroke="#1e2423" stroke-width="2.1"/>
<line x1="1514.80" y1="758.25" x2="1518.00" y2="758.25" stroke="#1e2423" stroke-width="2.1"/>
<line x1="1844.80" y1="758.25" x2="1841.60" y2="758.25" stroke="#1e2423" stroke-width="2.1"/>
<line x1="1704.04" y1="402.50" x2="1704.04" y2="405.70" stroke="#1e2423" stroke-width="2.1"/>
<line x1="1704.04" y1="780.80" x2="1704.04" y2="777.60" stroke="#1e2423" stroke-width="2.1"/>
<line x1="1514.80" y1="750.42" x2="1518.00" y2="750.42" stroke="#1e2423" stroke-width="2.1"/>
<line x1="1844.80" y1="750.42" x2="1841.60" y2="750.42" stroke="#1e2423" stroke-width="2.1"/>
<line x1="1709.60" y1="402.50" x2="1709.60" y2="405.70" stroke="#1e2423" stroke-width="2.1"/>
<line x1="1709.60" y1="780.80" x2="1709.60" y2="777.60" stroke="#1e2423" stroke-width="2.1"/>
<line x1="1514.80" y1="744.03" x2="1518.00" y2="744.03" stroke="#1e2423" stroke-width="2.1"/>
<line x1="1844.80" y1="744.03" x2="1841.60" y2="744.03" stroke="#1e2423" stroke-width="2.1"/>
<line x1="1714.31" y1="402.50" x2="1714.31" y2="405.70" stroke="#1e2423" stroke-width="2.1"/>
<line x1="1714.31" y1="780.80" x2="1714.31" y2="777.60" stroke="#1e2423" stroke-width="2.1"/>
<line x1="1514.80" y1="738.62" x2="1518.00" y2="738.62" stroke="#1e2423" stroke-width="2.1"/>
<line x1="1844.80" y1="738.62" x2="1841.60" y2="738.62" stroke="#1e2423" stroke-width="2.1"/>
<line x1="1718.39" y1="402.50" x2="1718.39" y2="405.70" stroke="#1e2423" stroke-width="2.1"/>
<line x1="1718.39" y1="780.80" x2="1718.39" y2="777.60" stroke="#1e2423" stroke-width="2.1"/>
<line x1="1514.80" y1="733.93" x2="1518.00" y2="733.93" stroke="#1e2423" stroke-width="2.1"/>
<line x1="1844.80" y1="733.93" x2="1841.60" y2="733.93" stroke="#1e2423" stroke-width="2.1"/>
<line x1="1721.98" y1="402.50" x2="1721.98" y2="405.70" stroke="#1e2423" stroke-width="2.1"/>
<line x1="1721.98" y1="780.80" x2="1721.98" y2="777.60" stroke="#1e2423" stroke-width="2.1"/>
<line x1="1514.80" y1="729.80" x2="1518.00" y2="729.80" stroke="#1e2423" stroke-width="2.1"/>
<line x1="1844.80" y1="729.80" x2="1841.60" y2="729.80" stroke="#1e2423" stroke-width="2.1"/>
<line x1="1725.20" y1="402.50" x2="1725.20" y2="407.90" stroke="#1e2423" stroke-width="2.1"/>
<line x1="1725.20" y1="780.80" x2="1725.20" y2="775.40" stroke="#1e2423" stroke-width="2.1"/>
<line x1="1514.80" y1="726.10" x2="1520.20" y2="726.10" stroke="#1e2423" stroke-width="2.1"/>
<line x1="1844.80" y1="726.10" x2="1839.40" y2="726.10" stroke="#1e2423" stroke-width="2.1"/>
<line x1="1746.36" y1="402.50" x2="1746.36" y2="405.70" stroke="#1e2423" stroke-width="2.1"/>
<line x1="1746.36" y1="780.80" x2="1746.36" y2="777.60" stroke="#1e2423" stroke-width="2.1"/>
<line x1="1514.80" y1="701.78" x2="1518.00" y2="701.78" stroke="#1e2423" stroke-width="2.1"/>
<line x1="1844.80" y1="701.78" x2="1841.60" y2="701.78" stroke="#1e2423" stroke-width="2.1"/>
<line x1="1758.74" y1="402.50" x2="1758.74" y2="405.70" stroke="#1e2423" stroke-width="2.1"/>
<line x1="1758.74" y1="780.80" x2="1758.74" y2="777.60" stroke="#1e2423" stroke-width="2.1"/>
<line x1="1514.80" y1="687.55" x2="1518.00" y2="687.55" stroke="#1e2423" stroke-width="2.1"/>
<line x1="1844.80" y1="687.55" x2="1841.60" y2="687.55" stroke="#1e2423" stroke-width="2.1"/>
<line x1="1767.52" y1="402.50" x2="1767.52" y2="405.70" stroke="#1e2423" stroke-width="2.1"/>
<line x1="1767.52" y1="780.80" x2="1767.52" y2="777.60" stroke="#1e2423" stroke-width="2.1"/>
<line x1="1514.80" y1="677.45" x2="1518.00" y2="677.45" stroke="#1e2423" stroke-width="2.1"/>
<line x1="1844.80" y1="677.45" x2="1841.60" y2="677.45" stroke="#1e2423" stroke-width="2.1"/>
<line x1="1774.34" y1="402.50" x2="1774.34" y2="405.70" stroke="#1e2423" stroke-width="2.1"/>
<line x1="1774.34" y1="780.80" x2="1774.34" y2="777.60" stroke="#1e2423" stroke-width="2.1"/>
<line x1="1514.80" y1="669.62" x2="1518.00" y2="669.62" stroke="#1e2423" stroke-width="2.1"/>
<line x1="1844.80" y1="669.62" x2="1841.60" y2="669.62" stroke="#1e2423" stroke-width="2.1"/>
<line x1="1779.90" y1="402.50" x2="1779.90" y2="405.70" stroke="#1e2423" stroke-width="2.1"/>
<line x1="1779.90" y1="780.80" x2="1779.90" y2="777.60" stroke="#1e2423" stroke-width="2.1"/>
<line x1="1514.80" y1="663.23" x2="1518.00" y2="663.23" stroke="#1e2423" stroke-width="2.1"/>
<line x1="1844.80" y1="663.23" x2="1841.60" y2="663.23" stroke="#1e2423" stroke-width="2.1"/>
<line x1="1784.61" y1="402.50" x2="1784.61" y2="405.70" stroke="#1e2423" stroke-width="2.1"/>
<line x1="1784.61" y1="780.80" x2="1784.61" y2="777.60" stroke="#1e2423" stroke-width="2.1"/>
<line x1="1514.80" y1="657.82" x2="1518.00" y2="657.82" stroke="#1e2423" stroke-width="2.1"/>
<line x1="1844.80" y1="657.82" x2="1841.60" y2="657.82" stroke="#1e2423" stroke-width="2.1"/>
<line x1="1788.69" y1="402.50" x2="1788.69" y2="405.70" stroke="#1e2423" stroke-width="2.1"/>
<line x1="1788.69" y1="780.80" x2="1788.69" y2="777.60" stroke="#1e2423" stroke-width="2.1"/>
<line x1="1514.80" y1="653.13" x2="1518.00" y2="653.13" stroke="#1e2423" stroke-width="2.1"/>
<line x1="1844.80" y1="653.13" x2="1841.60" y2="653.13" stroke="#1e2423" stroke-width="2.1"/>
<line x1="1792.28" y1="402.50" x2="1792.28" y2="405.70" stroke="#1e2423" stroke-width="2.1"/>
<line x1="1792.28" y1="780.80" x2="1792.28" y2="777.60" stroke="#1e2423" stroke-width="2.1"/>
<line x1="1514.80" y1="649.00" x2="1518.00" y2="649.00" stroke="#1e2423" stroke-width="2.1"/>
<line x1="1844.80" y1="649.00" x2="1841.60" y2="649.00" stroke="#1e2423" stroke-width="2.1"/>
<line x1="1795.50" y1="402.50" x2="1795.50" y2="407.90" stroke="#1e2423" stroke-width="2.1"/>
<line x1="1795.50" y1="780.80" x2="1795.50" y2="775.40" stroke="#1e2423" stroke-width="2.1"/>
<line x1="1514.80" y1="645.30" x2="1520.20" y2="645.30" stroke="#1e2423" stroke-width="2.1"/>
<line x1="1844.80" y1="645.30" x2="1839.40" y2="645.30" stroke="#1e2423" stroke-width="2.1"/>
<line x1="1816.66" y1="402.50" x2="1816.66" y2="405.70" stroke="#1e2423" stroke-width="2.1"/>
<line x1="1816.66" y1="780.80" x2="1816.66" y2="777.60" stroke="#1e2423" stroke-width="2.1"/>
<line x1="1514.80" y1="620.98" x2="1518.00" y2="620.98" stroke="#1e2423" stroke-width="2.1"/>
<line x1="1844.80" y1="620.98" x2="1841.60" y2="620.98" stroke="#1e2423" stroke-width="2.1"/>
<line x1="1829.04" y1="402.50" x2="1829.04" y2="405.70" stroke="#1e2423" stroke-width="2.1"/>
<line x1="1829.04" y1="780.80" x2="1829.04" y2="777.60" stroke="#1e2423" stroke-width="2.1"/>
<line x1="1514.80" y1="606.75" x2="1518.00" y2="606.75" stroke="#1e2423" stroke-width="2.1"/>
<line x1="1844.80" y1="606.75" x2="1841.60" y2="606.75" stroke="#1e2423" stroke-width="2.1"/>
<line x1="1837.82" y1="402.50" x2="1837.82" y2="405.70" stroke="#1e2423" stroke-width="2.1"/>
<line x1="1837.82" y1="780.80" x2="1837.82" y2="777.60" stroke="#1e2423" stroke-width="2.1"/>
<line x1="1514.80" y1="596.65" x2="1518.00" y2="596.65" stroke="#1e2423" stroke-width="2.1"/>
<line x1="1844.80" y1="596.65" x2="1841.60" y2="596.65" stroke="#1e2423" stroke-width="2.1"/>
<line x1="1514.80" y1="588.82" x2="1518.00" y2="588.82" stroke="#1e2423" stroke-width="2.1"/>
<line x1="1844.80" y1="588.82" x2="1841.60" y2="588.82" stroke="#1e2423" stroke-width="2.1"/>
<line x1="1514.80" y1="582.43" x2="1518.00" y2="582.43" stroke="#1e2423" stroke-width="2.1"/>
<line x1="1844.80" y1="582.43" x2="1841.60" y2="582.43" stroke="#1e2423" stroke-width="2.1"/>
<line x1="1514.80" y1="577.02" x2="1518.00" y2="577.02" stroke="#1e2423" stroke-width="2.1"/>
<line x1="1844.80" y1="577.02" x2="1841.60" y2="577.02" stroke="#1e2423" stroke-width="2.1"/>
<line x1="1514.80" y1="572.33" x2="1518.00" y2="572.33" stroke="#1e2423" stroke-width="2.1"/>
<line x1="1844.80" y1="572.33" x2="1841.60" y2="572.33" stroke="#1e2423" stroke-width="2.1"/>
<line x1="1514.80" y1="568.20" x2="1518.00" y2="568.20" stroke="#1e2423" stroke-width="2.1"/>
<line x1="1844.80" y1="568.20" x2="1841.60" y2="568.20" stroke="#1e2423" stroke-width="2.1"/>
<line x1="1514.80" y1="564.50" x2="1520.20" y2="564.50" stroke="#1e2423" stroke-width="2.1"/>
<line x1="1844.80" y1="564.50" x2="1839.40" y2="564.50" stroke="#1e2423" stroke-width="2.1"/>
<line x1="1514.80" y1="540.18" x2="1518.00" y2="540.18" stroke="#1e2423" stroke-width="2.1"/>
<line x1="1844.80" y1="540.18" x2="1841.60" y2="540.18" stroke="#1e2423" stroke-width="2.1"/>
<line x1="1514.80" y1="525.95" x2="1518.00" y2="525.95" stroke="#1e2423" stroke-width="2.1"/>
<line x1="1844.80" y1="525.95" x2="1841.60" y2="525.95" stroke="#1e2423" stroke-width="2.1"/>
<line x1="1514.80" y1="515.85" x2="1518.00" y2="515.85" stroke="#1e2423" stroke-width="2.1"/>
<line x1="1844.80" y1="515.85" x2="1841.60" y2="515.85" stroke="#1e2423" stroke-width="2.1"/>
<line x1="1514.80" y1="508.02" x2="1518.00" y2="508.02" stroke="#1e2423" stroke-width="2.1"/>
<line x1="1844.80" y1="508.02" x2="1841.60" y2="508.02" stroke="#1e2423" stroke-width="2.1"/>
<line x1="1514.80" y1="501.63" x2="1518.00" y2="501.63" stroke="#1e2423" stroke-width="2.1"/>
<line x1="1844.80" y1="501.63" x2="1841.60" y2="501.63" stroke="#1e2423" stroke-width="2.1"/>
<line x1="1514.80" y1="496.22" x2="1518.00" y2="496.22" stroke="#1e2423" stroke-width="2.1"/>
<line x1="1844.80" y1="496.22" x2="1841.60" y2="496.22" stroke="#1e2423" stroke-width="2.1"/>
<line x1="1514.80" y1="491.53" x2="1518.00" y2="491.53" stroke="#1e2423" stroke-width="2.1"/>
<line x1="1844.80" y1="491.53" x2="1841.60" y2="491.53" stroke="#1e2423" stroke-width="2.1"/>
<line x1="1514.80" y1="487.40" x2="1518.00" y2="487.40" stroke="#1e2423" stroke-width="2.1"/>
<line x1="1844.80" y1="487.40" x2="1841.60" y2="487.40" stroke="#1e2423" stroke-width="2.1"/>
<line x1="1514.80" y1="483.70" x2="1520.20" y2="483.70" stroke="#1e2423" stroke-width="2.1"/>
<line x1="1844.80" y1="483.70" x2="1839.40" y2="483.70" stroke="#1e2423" stroke-width="2.1"/>
<line x1="1514.80" y1="459.38" x2="1518.00" y2="459.38" stroke="#1e2423" stroke-width="2.1"/>
<line x1="1844.80" y1="459.38" x2="1841.60" y2="459.38" stroke="#1e2423" stroke-width="2.1"/>
<line x1="1514.80" y1="445.15" x2="1518.00" y2="445.15" stroke="#1e2423" stroke-width="2.1"/>
<line x1="1844.80" y1="445.15" x2="1841.60" y2="445.15" stroke="#1e2423" stroke-width="2.1"/>
<line x1="1514.80" y1="435.05" x2="1518.00" y2="435.05" stroke="#1e2423" stroke-width="2.1"/>
<line x1="1844.80" y1="435.05" x2="1841.60" y2="435.05" stroke="#1e2423" stroke-width="2.1"/>
<line x1="1514.80" y1="427.22" x2="1518.00" y2="427.22" stroke="#1e2423" stroke-width="2.1"/>
<line x1="1844.80" y1="427.22" x2="1841.60" y2="427.22" stroke="#1e2423" stroke-width="2.1"/>
<line x1="1514.80" y1="420.83" x2="1518.00" y2="420.83" stroke="#1e2423" stroke-width="2.1"/>
<line x1="1844.80" y1="420.83" x2="1841.60" y2="420.83" stroke="#1e2423" stroke-width="2.1"/>
<line x1="1514.80" y1="415.42" x2="1518.00" y2="415.42" stroke="#1e2423" stroke-width="2.1"/>
<line x1="1844.80" y1="415.42" x2="1841.60" y2="415.42" stroke="#1e2423" stroke-width="2.1"/>
<line x1="1514.80" y1="410.73" x2="1518.00" y2="410.73" stroke="#1e2423" stroke-width="2.1"/>
<line x1="1844.80" y1="410.73" x2="1841.60" y2="410.73" stroke="#1e2423" stroke-width="2.1"/>
<line x1="1514.80" y1="406.60" x2="1518.00" y2="406.60" stroke="#1e2423" stroke-width="2.1"/>
<line x1="1844.80" y1="406.60" x2="1841.60" y2="406.60" stroke="#1e2423" stroke-width="2.1"/>
<line x1="1514.8" y1="780.8" x2="1844.8" y2="402.5" stroke="#1768ad" stroke-width="2.7" stroke-linecap="butt"/>
<text transform="translate(1459.55 494.35) scale(0.9200 1)" font-size="35.4" fill="#231815">10<tspan font-size="21.0" dx="1.6" dy="-12.2">2</tspan></text>
<text transform="translate(1459.55 576.20) scale(0.9200 1)" font-size="35.4" fill="#231815">10<tspan font-size="21.0" dx="1.6" dy="-12.2">1</tspan></text>
<text transform="translate(1459.55 656.95) scale(0.9200 1)" font-size="35.4" fill="#231815">10<tspan font-size="21.0" dx="1.6" dy="-12.2">0</tspan></text>
<text transform="translate(1456.25 737.75) scale(0.9200 1)" font-size="35.4" fill="#231815">10<tspan font-size="21.0" dx="1.6" dy="-12.2">-1</tspan></text>
<text transform="translate(1553.85 819.20) scale(0.9200 1)" font-size="35.4" fill="#231815">10<tspan font-size="21.0" dx="1.6" dy="-12.2">-3</tspan></text>
<text transform="translate(1624.45 819.20) scale(0.9200 1)" font-size="35.4" fill="#231815">10<tspan font-size="21.0" dx="1.6" dy="-12.2">-2</tspan></text>
<text transform="translate(1695.75 819.20) scale(0.9200 1)" font-size="35.4" fill="#231815">10<tspan font-size="21.0" dx="1.6" dy="-12.2">-1</tspan></text>
<text transform="translate(1767.50 819.20) scale(0.9200 1)" font-size="35.4" fill="#231815">10<tspan font-size="21.0" dx="1.6" dy="-12.2">0</tspan></text>
<text transform="translate(1426.90 414.70) scale(0.9600 1)" font-size="48" fill="#231815" font-weight="bold">f</text>
<text transform="translate(1446.40 715.85) rotate(-90) scale(0.9340 1)" font-size="44.5" fill="#000000" font-weight="bold">Intensity a.u.</text>
<text transform="translate(1506.10 855.95) scale(1.0150 1)" font-size="41" fill="#231815" font-weight="bold">Concentration (M)</text>
<text transform="translate(1545.30 472.20) scale(0.9820 1)" font-size="35.4" fill="#1768ad">y = 20.53x</text>
<text transform="translate(1553.50 519.00) scale(0.9780 1)" font-size="35.4" fill="#1768ad">R<tspan font-size="21" dy="-11.5">2</tspan><tspan dy="11.5"> = 1.00</tspan></text>
</svg>
</body></html>
